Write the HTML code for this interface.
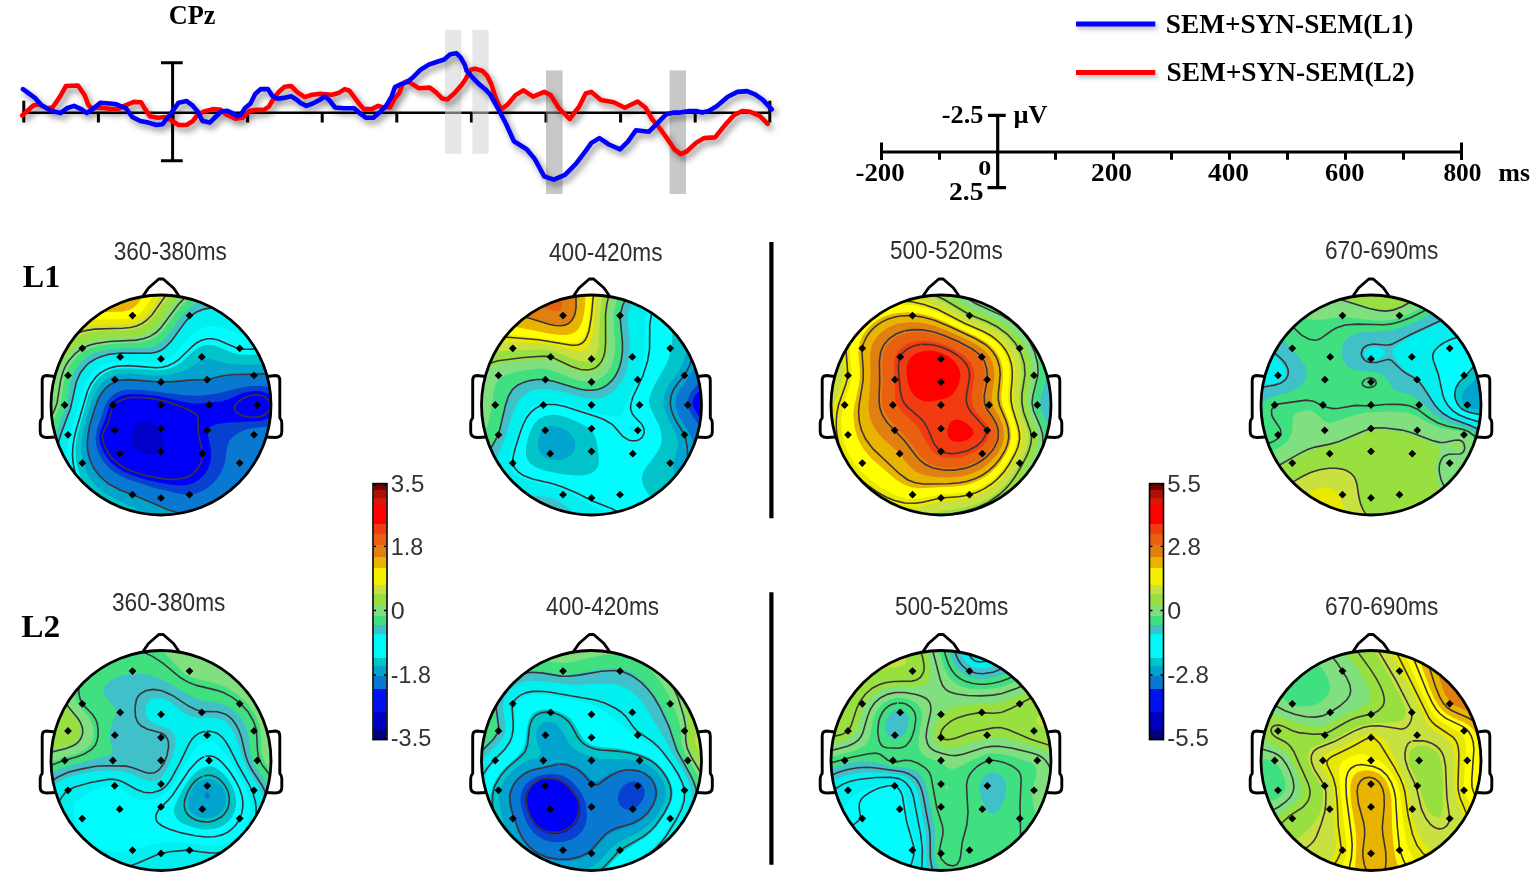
<!DOCTYPE html><html><head><meta charset="utf-8"><title>ERP topography</title><style>html,body{margin:0;padding:0;background:#fff;}svg{display:block;}</style></head><body>
<svg width="1535" height="878" viewBox="0 0 1535 878">
<defs><filter id="sh2" x="-10%" y="-100%" width="120%" height="300%"><feGaussianBlur in="SourceAlpha" stdDeviation="2"/><feOffset dx="1.5" dy="2.5" result="b"/><feFlood flood-color="#000" flood-opacity="0.25"/><feComposite in2="b" operator="in"/><feMerge><feMergeNode/><feMergeNode in="SourceGraphic"/></feMerge></filter></defs>
<rect width="1535" height="878" fill="#fff"/>
<filter id="sh" x="-5%" y="-20%" width="110%" height="140%"><feGaussianBlur in="SourceAlpha" stdDeviation="3"/><feOffset dx="2.5" dy="3.5" result="b"/><feFlood flood-color="#000" flood-opacity="0.45"/><feComposite in2="b" operator="in"/><feMerge><feMergeNode/><feMergeNode in="SourceGraphic"/></feMerge></filter>
<path d="M22 112.7H771" stroke="#000" stroke-width="2.6"/>
<path d="M23.8 100.8V122.6M98.4 112.7V122.6M173 112.7V122.6M247.6 112.7V122.6M322.2 112.7V122.6M396.8 112.7V122.6M471.4 112.7V122.6M546 112.7V122.6M620.6 112.7V122.6M695.2 112.7V122.6M769.8 100.8V122.6" stroke="#000" stroke-width="3"/>
<path d="M172.6 61.5V161M161 62.8H182.7M161 160.7H182.7" stroke="#000" stroke-width="3"/>
<rect x="445" y="29.7" width="16.4" height="124" fill="rgb(212,212,212)" fill-opacity="0.55"/>
<rect x="472.4" y="29.7" width="16.2" height="124" fill="rgb(212,212,212)" fill-opacity="0.55"/>
<rect x="546" y="70.4" width="16.6" height="123.6" fill="rgb(151,151,151)" fill-opacity="0.53"/>
<rect x="669.6" y="70.4" width="16.4" height="123.6" fill="rgb(151,151,151)" fill-opacity="0.53"/>
<g filter="url(#sh)" fill="none" stroke-width="4.6" stroke-linejoin="round" stroke-linecap="round">
<path stroke="#f00" d="M22.2 115.5L33.3 105.5L38.9 104.3L46.9 108.3L52.5 107.5L59.7 97.1L66 86L78 85.5L84.4 94.7L88.4 105L91.6 108.3L99.5 107.5L110 108.7L118 109L126 105.1L133.9 101.9L141.1 102.3L145.1 109.1L149.9 116.3L157.8 117.8L165.8 117L172.2 121L178.6 125L186.6 125L192.9 121L197.7 114.7L204.1 111.5L213 109.1L221 109.9L226.5 114.7L235.3 118.6L242.5 117.8L249.7 110.7L256.8 109.9L264 109.9L268.8 106.7L273.6 98.7L278.4 92.3L284.7 86.7L291.1 86L297.5 92.3L304.8 97.1L312 94.7L319.9 93.9L331.9 94.7L338.3 93.1L344.7 89.1L349.4 90.7L354.2 97.1L359 103.5L363.8 109.1L371.8 109.1L378.1 105.9L383.7 107.5L390.1 107.5L394.9 97.9L399.1 93.3L403.2 83L407.3 81L412.4 84.1L418.6 88.2L429.8 87.6L436 92.3L442.1 98.4L447.3 99.4L454.4 93.3L461.6 85.1L465.7 78.9L470.8 69.7L474.9 68.7L482.1 70.7L487.2 75.9L491.3 84.1L496.4 99.9L501.2 109.4L507.5 104.7L515.5 95.1L523.5 90.3L533.1 96.7L544.2 91.9L550.6 95.1L558.6 107.8L569.7 119L579.3 106.3L585.7 93.5L591.4 91.9L601 99.9L613.7 102.3L624.9 107.8L637.6 101.5L645.6 107.8L652 119L660 128.6L667.9 139.7L674.3 149.3L680.7 154.1L686.4 151.7L696 142.9L703.9 138.1L715.1 137.4L724.7 125.4L734.2 115L742.2 111L750.2 111.8L759.7 115.8L767.7 123.8"/>
<path stroke="#00f" d="M23 89.1L34.9 97.9L41.3 105.1L50.9 110.7L60.5 113.1L66.8 108.3L74 105.9L81.2 109.1L86.8 113.1L94.7 107.5L100.3 102.7L110 103.5L116.4 104.3L126 108.3L132.3 117L140.3 121L148.3 122.6L156.3 125L162.6 124.2L170.6 113.9L178.6 102.7L186.6 101.1L192.1 105.1L197.7 111.5L202.5 121L209.8 122.6L215.4 117L221 111.5L227.3 110.7L232.1 113.1L236.9 116.3L240.9 114.7L244.9 108.3L250.5 103.5L255.2 93.9L260.8 89.1L268 89.1L272 95.5L276.8 98.7L284 97.9L291.1 96.3L297.5 100.3L300 102.7L306.4 105.9L312.8 103.5L319.1 100.3L324.7 96.3L328.7 99.5L335.1 107.5L343.9 108.3L354.2 108.3L360.6 113.9L366.2 117.8L373.4 117.8L379.7 112.3L386.1 105.9L391.7 96.3L395 87.1L401.1 84.1L407.3 82L413.4 76.9L420.6 69.7L428.8 64.6L438 61.5L444.2 59.5L450.3 54.3L456.5 53.3L460.6 57.4L464.7 64.6L466.7 70.7L472.9 77.9L479 84.1L485.2 89.2L490.2 94.5L495 103L498 108.5L506 123.8L513.9 141.3L526.7 149.3L534.7 158.9L544.2 176.4L553.8 179.6L565 174.8L576.1 163.7L585.7 150.9L591.4 142.9L599.4 138.1L608.9 144.5L620.1 149.3L628.1 141.3L636 130.2L648.8 131.8L656.8 123.8L666.3 114.2L674.3 112.6L680 112.6L689.6 111L696 111L702.3 112.6L708.7 111L716.7 106.3L727.8 96.7L737.4 91.9L747 91.1L755 94.3L762.9 99.9L771.7 109.4"/>
</g>
<text x="168.7" y="23.5" font-family="Liberation Serif, serif" font-weight="bold" font-size="26.5" textLength="46.7" lengthAdjust="spacingAndGlyphs">CPz</text>
<g filter="url(#sh2)">
<path d="M1076 24H1155.3" stroke="#00f" stroke-width="5"/>
<path d="M1076 72.4H1155.3" stroke="#f00" stroke-width="5"/>
</g>
<text x="1165.8" y="32.5" font-family="Liberation Serif, serif" font-weight="bold" font-size="28" textLength="247.5" lengthAdjust="spacingAndGlyphs">SEM+SYN-SEM(L1)</text>
<text x="1166.5" y="81" font-family="Liberation Serif, serif" font-weight="bold" font-size="28" textLength="248" lengthAdjust="spacingAndGlyphs">SEM+SYN-SEM(L2)</text>
<path d="M881.5 152H1462" stroke="#000" stroke-width="3"/>
<path d="M881.5 142.4V160M939.5 152V159.8M997.5 152V159.8M1055.5 152V159.8M1113.5 152V159.8M1171.5 152V159.8M1229.5 152V159.8M1287.5 152V159.8M1345.5 152V159.8M1403.5 152V159.8M1461.5 142.4V160" stroke="#000" stroke-width="3"/>
<path d="M997.7 113.7V189.3M988 115.4H1005.7M987.5 187.6H1006" stroke="#000" stroke-width="3.2"/>
<text x="941.7" y="122.6" font-family="Liberation Serif, serif" font-weight="bold" font-size="25.5" textLength="41.7" lengthAdjust="spacingAndGlyphs">-2.5</text>
<text x="1013.5" y="122.6" font-family="Liberation Serif, serif" font-weight="bold" font-size="25.5" textLength="34" lengthAdjust="spacingAndGlyphs">µV</text>
<text x="949" y="199.5" font-family="Liberation Serif, serif" font-weight="bold" font-size="25.5" textLength="34.4" lengthAdjust="spacingAndGlyphs">2.5</text>
<text x="978.3" y="175.2" font-family="Liberation Serif, serif" font-weight="bold" font-size="22" textLength="13" lengthAdjust="spacingAndGlyphs">0</text>
<text x="855.5" y="180.5" font-family="Liberation Serif, serif" font-weight="bold" font-size="26" textLength="49.2" lengthAdjust="spacingAndGlyphs">-200</text>
<text x="1091" y="180.5" font-family="Liberation Serif, serif" font-weight="bold" font-size="26" textLength="41" lengthAdjust="spacingAndGlyphs">200</text>
<text x="1208" y="180.5" font-family="Liberation Serif, serif" font-weight="bold" font-size="26" textLength="41" lengthAdjust="spacingAndGlyphs">400</text>
<text x="1325" y="180.5" font-family="Liberation Serif, serif" font-weight="bold" font-size="26" textLength="39.5" lengthAdjust="spacingAndGlyphs">600</text>
<text x="1443.4" y="180.5" font-family="Liberation Serif, serif" font-weight="bold" font-size="26" textLength="38" lengthAdjust="spacingAndGlyphs">800</text>
<text x="1498.6" y="180.5" font-family="Liberation Serif, serif" font-weight="bold" font-size="26" textLength="31.4" lengthAdjust="spacingAndGlyphs">ms</text>
<text x="113.7" y="259.6" font-family="Liberation Sans, Arial, sans-serif" font-size="25" fill="#2e2e2e" textLength="113.1" lengthAdjust="spacingAndGlyphs">360-380ms</text>
<text x="549" y="261.4" font-family="Liberation Sans, Arial, sans-serif" font-size="25" fill="#2e2e2e" textLength="113.5" lengthAdjust="spacingAndGlyphs">400-420ms</text>
<text x="890" y="259.4" font-family="Liberation Sans, Arial, sans-serif" font-size="25" fill="#2e2e2e" textLength="112.9" lengthAdjust="spacingAndGlyphs">500-520ms</text>
<text x="1325" y="259.4" font-family="Liberation Sans, Arial, sans-serif" font-size="25" fill="#2e2e2e" textLength="113.3" lengthAdjust="spacingAndGlyphs">670-690ms</text>
<text x="112" y="611.4" font-family="Liberation Sans, Arial, sans-serif" font-size="25" fill="#2e2e2e" textLength="113.4" lengthAdjust="spacingAndGlyphs">360-380ms</text>
<text x="546.1" y="615.4" font-family="Liberation Sans, Arial, sans-serif" font-size="25" fill="#2e2e2e" textLength="112.9" lengthAdjust="spacingAndGlyphs">400-420ms</text>
<text x="894.9" y="615.4" font-family="Liberation Sans, Arial, sans-serif" font-size="25" fill="#2e2e2e" textLength="113.4" lengthAdjust="spacingAndGlyphs">500-520ms</text>
<text x="1324.9" y="615.4" font-family="Liberation Sans, Arial, sans-serif" font-size="25" fill="#2e2e2e" textLength="113.4" lengthAdjust="spacingAndGlyphs">670-690ms</text>
<text x="22.8" y="287" font-family="Liberation Serif, serif" font-weight="bold" font-size="30.5" textLength="37.4" lengthAdjust="spacingAndGlyphs">L1</text>
<text x="21.2" y="636.5" font-family="Liberation Serif, serif" font-weight="bold" font-size="30.5" textLength="39" lengthAdjust="spacingAndGlyphs">L2</text>
<path d="M771.4 242V518.2M771.4 592.2V864.8" stroke="#000" stroke-width="4.2"/>
<rect x="373.5" y="484" width="13" height="6.5" fill="#780000"/>
<rect x="373.5" y="490" width="13" height="8.5" fill="#a81008"/>
<rect x="373.5" y="498" width="13" height="7.5" fill="#d81808"/>
<rect x="373.5" y="505" width="13" height="19.5" fill="#ff0000"/>
<rect x="373.5" y="524" width="13" height="10.5" fill="#f03c10"/>
<rect x="373.5" y="534" width="13" height="11.5" fill="#e86010"/>
<rect x="373.5" y="545" width="13" height="12.5" fill="#e08010"/>
<rect x="373.5" y="557" width="13" height="11.5" fill="#e8b400"/>
<rect x="373.5" y="568" width="13" height="17.5" fill="#f4f000"/>
<rect x="373.5" y="585" width="13" height="9.5" fill="#c8e040"/>
<rect x="373.5" y="594" width="13" height="12.5" fill="#98e040"/>
<rect x="373.5" y="606" width="13" height="10.5" fill="#80e080"/>
<rect x="373.5" y="616" width="13" height="9.5" fill="#40e080"/>
<rect x="373.5" y="625" width="13" height="9.5" fill="#40c0c8"/>
<rect x="373.5" y="634" width="13" height="24.5" fill="#00f8f8"/>
<rect x="373.5" y="658" width="13" height="8.5" fill="#00c4c8"/>
<rect x="373.5" y="666" width="13" height="10.5" fill="#00a4cc"/>
<rect x="373.5" y="676" width="13" height="13.5" fill="#0878d0"/>
<rect x="373.5" y="689" width="13" height="23.5" fill="#0010f0"/>
<rect x="373.5" y="712" width="13" height="18.5" fill="#0000c0"/>
<rect x="373.5" y="730" width="13" height="9.5" fill="#000080"/>
<rect x="373" y="483.6" width="14" height="256" fill="none" stroke="#000" stroke-width="1.6"/>
<path d="M373.5 485h2.5M386.5 485h-2.5M373.5 546.4h2.5M386.5 546.4h-2.5M373.5 610.5h2.5M386.5 610.5h-2.5M373.5 675h2.5M386.5 675h-2.5M373.5 738.5h2.5M386.5 738.5h-2.5" stroke="#000" stroke-width="1.4"/>
<text x="390.8" y="492" font-family="Liberation Sans, Arial, sans-serif" font-size="24" fill="#333" textLength="33.5" lengthAdjust="spacingAndGlyphs">3.5</text>
<text x="390.8" y="554.6" font-family="Liberation Sans, Arial, sans-serif" font-size="24" fill="#333" textLength="32.5" lengthAdjust="spacingAndGlyphs">1.8</text>
<text x="390.8" y="618.7" font-family="Liberation Sans, Arial, sans-serif" font-size="24" fill="#333" textLength="14" lengthAdjust="spacingAndGlyphs">0</text>
<text x="390.8" y="682.5" font-family="Liberation Sans, Arial, sans-serif" font-size="24" fill="#333" textLength="40" lengthAdjust="spacingAndGlyphs">-1.8</text>
<text x="390.8" y="746.4" font-family="Liberation Sans, Arial, sans-serif" font-size="24" fill="#333" textLength="40.5" lengthAdjust="spacingAndGlyphs">-3.5</text>
<rect x="1150" y="484" width="13" height="6.5" fill="#780000"/>
<rect x="1150" y="490" width="13" height="8.5" fill="#a81008"/>
<rect x="1150" y="498" width="13" height="7.5" fill="#d81808"/>
<rect x="1150" y="505" width="13" height="19.5" fill="#ff0000"/>
<rect x="1150" y="524" width="13" height="10.5" fill="#f03c10"/>
<rect x="1150" y="534" width="13" height="11.5" fill="#e86010"/>
<rect x="1150" y="545" width="13" height="12.5" fill="#e08010"/>
<rect x="1150" y="557" width="13" height="11.5" fill="#e8b400"/>
<rect x="1150" y="568" width="13" height="17.5" fill="#f4f000"/>
<rect x="1150" y="585" width="13" height="9.5" fill="#c8e040"/>
<rect x="1150" y="594" width="13" height="12.5" fill="#98e040"/>
<rect x="1150" y="606" width="13" height="10.5" fill="#80e080"/>
<rect x="1150" y="616" width="13" height="9.5" fill="#40e080"/>
<rect x="1150" y="625" width="13" height="9.5" fill="#40c0c8"/>
<rect x="1150" y="634" width="13" height="24.5" fill="#00f8f8"/>
<rect x="1150" y="658" width="13" height="8.5" fill="#00c4c8"/>
<rect x="1150" y="666" width="13" height="10.5" fill="#00a4cc"/>
<rect x="1150" y="676" width="13" height="13.5" fill="#0878d0"/>
<rect x="1150" y="689" width="13" height="23.5" fill="#0010f0"/>
<rect x="1150" y="712" width="13" height="18.5" fill="#0000c0"/>
<rect x="1150" y="730" width="13" height="9.5" fill="#000080"/>
<rect x="1149.5" y="483.6" width="14" height="256" fill="none" stroke="#000" stroke-width="1.6"/>
<path d="M1150 485h2.5M1163 485h-2.5M1150 546.4h2.5M1163 546.4h-2.5M1150 610.5h2.5M1163 610.5h-2.5M1150 675h2.5M1163 675h-2.5M1150 738.5h2.5M1163 738.5h-2.5" stroke="#000" stroke-width="1.4"/>
<text x="1167.3" y="492" font-family="Liberation Sans, Arial, sans-serif" font-size="24" fill="#333" textLength="33.5" lengthAdjust="spacingAndGlyphs">5.5</text>
<text x="1167.3" y="554.6" font-family="Liberation Sans, Arial, sans-serif" font-size="24" fill="#333" textLength="33.5" lengthAdjust="spacingAndGlyphs">2.8</text>
<text x="1167.3" y="618.7" font-family="Liberation Sans, Arial, sans-serif" font-size="24" fill="#333" textLength="14" lengthAdjust="spacingAndGlyphs">0</text>
<text x="1167.3" y="682.5" font-family="Liberation Sans, Arial, sans-serif" font-size="24" fill="#333" textLength="41.5" lengthAdjust="spacingAndGlyphs">-2.8</text>
<text x="1167.3" y="746.4" font-family="Liberation Sans, Arial, sans-serif" font-size="24" fill="#333" textLength="41.5" lengthAdjust="spacingAndGlyphs">-5.5</text>
<path d="M143 296L148.5 288L158.8 279L163.2 279L173.5 288L179 296" fill="#fff" stroke="#000" stroke-width="2.9" stroke-linejoin="round"/>
<path d="M54.8 376.5L46.5 375.5Q42.2 375.5 42.2 380.5L42.2 418Q40.2 420 40.2 423L40.2 432Q40.2 437.5 47 437.5L55.8 437" fill="#fff" stroke="#000" stroke-width="2.9" stroke-linejoin="round"/>
<path d="M267.2 376.5L275.5 375.5Q279.8 375.5 279.8 380.5L279.8 418Q281.8 420 281.8 423L281.8 432Q281.8 437.5 275 437.5L266.2 437" fill="#fff" stroke="#000" stroke-width="2.9" stroke-linejoin="round"/>
<clipPath id="hc0"><circle cx="161" cy="405" r="110"/></clipPath>
<g clip-path="url(#hc0)">
<circle cx="161" cy="405" r="112" fill="#000080"/>
<path fill="#0000a8" d="M49.5 292.0L273.0 292.0L273.0 517.0L271.5 517.0L48.0 517.0L48.0 292.0Z"/>
<path fill="#0000c8" d="M49.5 292.0L273.0 292.0L273.0 517.0L271.5 517.0L48.0 517.0L48.0 292.0Z"/>
<path fill="#0000f8" d="M49.5 292.0L273.0 292.0L273.0 517.0L271.5 517.0L48.0 517.0L48.0 292.0ZM141.8 421.0L139.5 421.8L136.5 423.9L133.4 428.5L131.9 433.0L131.2 437.5L132.0 444.0L133.5 447.0L135.7 449.5L141.0 452.9L147.0 454.6L154.5 454.4L157.5 453.5L160.5 451.8L163.3 448.0L164.3 443.5L163.1 437.5L157.7 428.5L153.0 423.5L150.0 421.8L147.0 420.9Z"/>
<path fill="#0840d0" d="M49.5 292.0L273.0 292.0L273.0 397.2L270.0 394.6L265.5 392.4L259.5 391.0L253.5 391.0L243.0 393.1L228.0 399.4L222.0 401.3L196.5 403.7L187.5 402.7L157.5 396.1L141.0 394.2L130.5 394.0L123.0 395.2L117.0 397.8L112.5 401.5L109.5 406.0L104.5 421.0L100.1 431.5L99.2 437.5L100.5 444.8L102.9 451.0L106.5 457.1L111.0 462.5L116.9 467.5L123.0 471.2L131.5 475.0L142.5 478.7L156.0 482.1L169.5 484.5L180.0 485.5L187.5 484.9L193.5 483.0L199.4 479.5L204.1 475.0L208.0 469.0L210.6 461.5L211.2 454.0L210.6 448.0L207.2 431.5L208.3 428.5L209.8 427.0L216.0 424.3L226.5 422.8L260.4 421.0L267.0 419.1L270.0 417.5L273.0 415.1L273.0 517.0L48.0 517.0L48.0 292.0Z"/>
<path fill="#0878d0" d="M49.5 292.0L273.0 292.0L273.0 389.0L268.5 387.3L262.5 386.1L250.5 386.1L240.0 387.8L216.0 393.8L204.0 395.3L195.0 395.7L183.0 395.0L142.5 390.0L127.5 389.6L120.0 391.1L114.0 394.1L109.2 398.5L105.5 404.5L97.1 428.5L95.6 437.5L96.0 443.8L97.9 451.0L100.6 457.0L105.0 463.6L109.5 468.3L114.2 472.0L120.0 475.5L127.5 479.0L153.0 487.5L180.0 494.1L189.0 494.7L196.5 493.3L204.3 490.0L212.4 484.0L218.8 476.5L222.8 469.0L225.1 461.5L227.2 446.5L229.6 440.5L233.7 436.0L238.1 433.0L244.7 430.0L252.0 428.1L265.5 426.7L273.0 424.5L273.0 517.0L48.0 517.0L48.0 292.0Z"/>
<path fill="#00a4cc" d="M49.5 292.0L273.0 292.0L273.0 374.8L264.0 374.3L232.5 375.4L222.0 376.8L207.0 380.6L193.5 380.7L171.0 382.5L156.0 382.2L132.0 380.1L123.0 380.3L115.5 382.0L109.5 385.4L103.7 391.0L99.8 397.0L96.0 405.9L91.3 421.0L89.1 430.0L87.9 439.0L87.8 446.5L88.8 454.0L91.1 461.5L94.0 467.5L97.5 472.6L102.0 477.7L106.5 481.5L112.5 485.5L120.0 489.3L133.5 494.3L160.5 505.8L177.0 511.6L184.5 513.3L192.0 514.0L199.5 513.7L206.9 512.5L213.0 510.7L220.5 507.6L226.5 504.3L232.5 500.1L243.0 490.3L248.0 484.0L252.0 478.0L263.1 457.0L267.0 452.9L273.0 449.4L273.0 517.0L48.0 517.0L48.0 292.0Z"/>
<path fill="#00c4c8" d="M49.5 292.0L273.0 292.0L273.0 363.9L249.0 364.8L238.5 364.4L228.0 363.2L210.0 359.3L205.5 358.9L201.0 360.2L191.2 367.0L185.6 370.0L178.5 372.8L171.0 374.6L157.5 375.7L129.0 373.5L123.0 373.6L117.0 374.4L109.0 377.5L105.0 380.1L101.4 383.5L96.0 391.0L91.5 401.4L84.1 427.0L82.2 437.5L81.4 445.0L81.5 452.5L82.6 460.0L84.8 467.5L87.5 473.5L91.5 479.9L96.0 485.2L100.5 489.5L106.5 493.9L115.5 499.0L153.4 517.0L48.0 517.0L48.0 292.0ZM273.0 486.8L273.0 517.0L240.0 517.0L239.2 517.0L248.2 511.0L257.2 503.5L264.8 496.0Z"/>
<path fill="#00fcfc" d="M49.5 292.0L273.0 292.0L273.0 353.5L249.0 354.9L240.0 354.5L232.5 352.7L214.5 345.6L210.0 344.9L205.5 345.1L201.0 346.4L198.0 348.0L193.5 351.3L181.2 362.5L175.5 366.0L169.5 368.4L163.5 369.8L156.0 370.3L129.0 368.2L117.0 368.8L111.0 370.4L105.4 373.0L100.5 376.4L96.5 380.5L92.4 386.5L88.5 395.4L78.2 431.5L76.4 440.5L75.5 449.5L75.8 458.5L77.1 466.0L79.3 473.5L82.7 481.0L87.0 487.8L93.0 494.8L99.0 500.2L106.5 505.6L127.2 517.0L48.0 517.0L48.0 292.0ZM273.0 510.7L273.0 517.0L265.5 517.0Z"/>
<path fill="#00f0f0" d="M49.5 292.0L273.0 292.0L273.0 335.6L255.0 335.8L246.0 335.2L240.0 333.8L220.5 327.0L213.0 326.0L207.0 326.4L201.0 328.2L195.0 331.9L189.0 337.7L175.1 353.5L169.5 358.0L163.7 361.0L159.0 362.1L153.0 362.4L129.0 360.7L120.0 360.8L111.0 362.2L103.5 364.8L97.5 368.2L92.0 373.0L87.5 379.0L84.5 385.0L69.4 436.0L67.5 445.0L66.5 454.0L66.5 463.0L67.6 472.0L69.9 481.0L72.8 488.5L76.8 496.0L82.1 503.5L88.5 510.6L95.5 517.0L48.0 517.0L48.0 292.0Z"/>
<path fill="#40c0c8" d="M49.5 292.0L273.0 292.0L273.0 314.3L255.0 312.5L225.0 308.4L214.5 308.5L205.5 310.0L196.5 313.3L190.5 317.2L186.0 322.4L171.0 342.9L165.0 348.7L160.5 351.6L156.0 353.1L150.0 353.9L117.0 353.8L109.5 354.9L102.0 356.9L94.5 360.2L88.5 364.4L83.2 370.0L79.5 376.1L75.8 386.5L70.9 409.0L61.5 434.5L57.6 449.5L56.4 458.5L56.1 467.5L56.7 476.5L58.3 485.5L61.0 494.5L64.1 502.0L68.2 509.5L73.2 517.0L48.0 517.0L48.0 292.0Z"/>
<path fill="#40e080" d="M49.5 292.0L273.0 292.0L273.0 298.0L244.5 295.8L228.0 295.6L213.0 297.5L205.5 299.6L199.5 301.9L192.0 306.0L186.0 310.9L181.5 316.0L171.2 331.0L166.5 336.9L161.8 341.5L156.0 345.2L151.5 346.8L145.5 347.9L117.0 348.7L103.5 350.6L96.0 352.7L90.8 355.0L85.5 358.3L80.8 362.5L75.3 370.0L71.9 377.5L69.9 385.0L66.5 406.0L53.2 439.0L49.9 451.0L48.0 463.7L48.0 292.0ZM48.1 482.5L49.5 491.2L51.5 499.0L54.7 508.0L58.9 517.0L58.5 517.0L48.0 517.0Z"/>
<path fill="#80e080" d="M49.5 292.0L200.2 292.0L190.5 297.9L183.0 304.2L177.0 311.2L163.5 329.8L159.0 334.4L154.5 337.8L148.5 340.6L141.0 342.3L111.0 344.0L97.5 346.1L87.0 349.6L82.7 352.0L78.7 355.0L71.9 362.5L67.5 370.0L64.8 377.5L63.3 385.0L61.5 400.0L60.0 406.0L48.0 432.8L48.0 292.0Z"/>
<path fill="#98e040" d="M49.5 292.0L184.4 292.0L174.6 302.5L159.0 323.7L154.5 328.2L150.0 331.5L142.5 335.0L135.0 336.7L108.0 338.2L93.9 340.0L82.5 343.5L73.5 349.0L66.2 356.5L61.3 364.0L57.6 373.0L55.7 380.5L52.5 400.0L48.0 412.3L48.0 292.0Z"/>
<path fill="#c8e040" d="M49.5 292.0L171.5 292.0L156.6 313.0L150.1 320.5L145.5 324.2L141.5 326.5L132.0 329.5L124.5 330.3L105.0 330.7L94.5 331.6L85.5 333.2L76.5 336.3L67.4 341.5L59.1 349.0L52.5 358.0L48.0 367.5L48.0 292.0Z"/>
<path fill="#e8e800" d="M49.5 292.0L162.9 292.0L153.0 307.0L147.0 314.5L141.0 319.7L135.0 322.7L130.5 323.9L124.5 324.6L93.0 325.3L85.5 326.4L78.0 328.3L69.0 331.8L61.5 336.3L54.0 342.6L48.0 349.5L48.0 292.0Z"/>
<path fill="#ffff00" d="M49.5 292.0L155.5 292.0L144.0 308.9L138.3 314.5L133.5 317.4L129.0 318.6L123.0 319.3L91.5 319.6L78.0 321.7L69.0 324.6L61.7 328.0L54.6 332.5L48.0 338.0L48.0 292.0Z"/>
<path fill="#e8b400" d="M49.5 292.0L146.2 292.0L137.5 304.0L133.5 307.7L129.5 310.0L121.5 311.7L93.0 311.9L78.0 313.6L69.0 315.8L61.5 318.5L54.3 322.0L48.0 325.9L48.0 292.0Z"/>
<path fill="#e08010" d="M49.5 292.0L129.5 292.0L123.2 296.5L117.0 298.6L109.5 299.7L85.5 301.0L75.0 302.3L61.5 305.5L48.0 310.7L48.0 292.0Z"/>
<path fill="#e86010" d="M49.5 292.0L55.3 292.0L52.5 292.8L48.0 294.3L48.0 292.0Z"/>
<path fill="none" stroke="#3a343a" stroke-width="1.6" d="M250.5 395.4L242.8 398.5L238.7 401.5L235.9 404.5L234.4 407.5L234.3 409.0L235.8 412.0L238.5 413.9L243.0 415.8L249.0 417.0L255.0 417.2L260.3 416.5L264.3 415.0L268.2 412.0L270.0 409.0L270.5 406.0L270.1 403.0L268.5 400.0L264.0 396.4L258.0 394.8L250.5 395.4M126.0 398.3L118.5 401.2L115.5 403.6L113.5 406.0L111.0 411.9L107.8 424.0L103.5 432.0L102.2 436.0L103.7 443.5L107.9 452.5L112.5 458.6L119.2 464.5L124.5 467.8L130.5 470.7L147.0 476.0L163.5 478.9L171.0 479.4L178.5 479.2L187.5 476.9L191.1 475.0L195.0 471.8L198.5 467.5L200.7 463.0L201.9 458.5L202.3 454.0L201.6 448.0L198.3 433.0L198.1 418.0L196.8 415.0L195.3 413.5L190.0 410.5L179.3 406.0L168.0 402.0L160.5 400.0L150.0 398.3L139.5 397.4L132.0 397.4L126.0 398.3M273.0 374.1L264.0 373.7L231.0 374.8L220.5 376.2L207.0 379.7L193.5 379.9L171.0 381.9L156.0 381.8L129.0 379.6L121.5 380.0L115.5 381.5L109.5 384.8L105.0 388.8L101.0 394.0L97.9 400.0L94.5 409.1L89.7 425.5L88.1 434.5L87.3 443.5L87.6 449.5L88.7 455.5L90.6 461.5L93.0 466.8L96.0 471.6L100.0 476.5L108.8 484.0L120.0 490.0L133.5 495.1L168.0 509.7L180.0 513.3L192.0 514.9L204.0 514.1L214.5 511.4L225.0 506.6L234.0 500.5L242.3 493.0L249.8 484.0L254.6 476.5L264.7 458.5L268.5 454.5L273.0 451.5M273.0 347.9L249.0 349.3L241.5 349.2L235.5 347.6L217.5 339.8L211.5 338.7L207.0 338.8L201.0 340.5L196.5 343.0L192.0 346.7L178.9 359.5L174.0 362.9L168.0 365.7L162.0 367.2L156.0 367.7L129.0 365.6L117.0 366.2L111.0 367.6L105.0 370.1L100.3 373.0L96.0 376.9L91.1 383.5L87.5 391.0L76.1 430.0L74.0 439.0L72.8 448.0L72.5 455.5L73.1 463.0L75.0 472.0L77.6 479.5L81.0 486.3L85.5 493.0L91.5 499.9L97.5 505.3L105.0 510.8L115.1 517.0M273.0 312.4L225.0 306.9L214.5 307.1L204.0 309.1L196.5 312.0L190.3 316.0L186.0 320.9L171.0 341.6L165.1 347.5L160.5 350.6L156.0 352.2L150.0 353.2L121.5 353.0L109.5 354.3L102.0 356.2L96.0 358.6L90.0 362.2L86.2 365.5L80.3 373.0L76.3 382.0L70.5 408.5L61.8 431.5L58.9 440.5L56.8 449.5L55.6 458.5L55.4 473.5L58.0 488.5L60.3 496.0L63.5 503.5L71.5 517.0M192.2 292.0L184.5 298.1L178.5 304.3L160.5 328.2L156.0 332.5L150.0 336.4L144.0 338.6L136.5 340.1L109.5 341.5L96.0 343.5L90.0 345.1L84.0 347.4L79.5 350.1L75.2 353.5L68.6 361.0L65.8 365.5L63.1 371.5L60.6 380.5L57.0 403.4L54.3 410.5L48.0 423.8M168.2 292.0L152.3 314.5L147.0 320.0L142.2 323.5L136.5 326.1L130.5 327.5L123.0 328.2L94.5 329.1L85.5 330.6L76.5 333.4L67.5 338.0L60.0 343.8L53.8 350.5L48.0 359.5"/>
</g>
<circle cx="161" cy="405" r="110" fill="none" stroke="#000" stroke-width="2.8"/>
<path fill="#000" d="M132.5 311.7l3.9 3.9l-3.9 3.9l-3.9-3.9zM189.5 311.7l3.9 3.9l-3.9 3.9l-3.9-3.9zM82.3 344.4l3.9 3.9l-3.9 3.9l-3.9-3.9zM120.2 353l3.9 3.9l-3.9 3.9l-3.9-3.9zM161 355l3.9 3.9l-3.9 3.9l-3.9-3.9zM201.8 353l3.9 3.9l-3.9 3.9l-3.9-3.9zM239.7 344.4l3.9 3.9l-3.9 3.9l-3.9-3.9zM68 371.5l3.9 3.9l-3.9 3.9l-3.9-3.9zM114.9 375.8l3.9 3.9l-3.9 3.9l-3.9-3.9zM161 378.1l3.9 3.9l-3.9 3.9l-3.9-3.9zM207.1 375.8l3.9 3.9l-3.9 3.9l-3.9-3.9zM254 371.5l3.9 3.9l-3.9 3.9l-3.9-3.9zM64.7 401.1l3.9 3.9l-3.9 3.9l-3.9-3.9zM112.9 401.1l3.9 3.9l-3.9 3.9l-3.9-3.9zM161 401.1l3.9 3.9l-3.9 3.9l-3.9-3.9zM209.1 401.1l3.9 3.9l-3.9 3.9l-3.9-3.9zM257.3 401.1l3.9 3.9l-3.9 3.9l-3.9-3.9zM68 430.9l3.9 3.9l-3.9 3.9l-3.9-3.9zM114.7 426.4l3.9 3.9l-3.9 3.9l-3.9-3.9zM161 424.7l3.9 3.9l-3.9 3.9l-3.9-3.9zM207.3 426.4l3.9 3.9l-3.9 3.9l-3.9-3.9zM254 430.9l3.9 3.9l-3.9 3.9l-3.9-3.9zM82.3 459.2l3.9 3.9l-3.9 3.9l-3.9-3.9zM119.7 449.8l3.9 3.9l-3.9 3.9l-3.9-3.9zM161 447.5l3.9 3.9l-3.9 3.9l-3.9-3.9zM202.3 449.8l3.9 3.9l-3.9 3.9l-3.9-3.9zM239.7 459.2l3.9 3.9l-3.9 3.9l-3.9-3.9zM132.5 490.8l3.9 3.9l-3.9 3.9l-3.9-3.9zM161 494l3.9 3.9l-3.9 3.9l-3.9-3.9zM189.5 490.8l3.9 3.9l-3.9 3.9l-3.9-3.9z"/>
<path d="M573.5 296L579 288L589.3 279L593.7 279L604 288L609.5 296" fill="#fff" stroke="#000" stroke-width="2.9" stroke-linejoin="round"/>
<path d="M485.3 376.5L477 375.5Q472.7 375.5 472.7 380.5L472.7 418Q470.7 420 470.7 423L470.7 432Q470.7 437.5 477.5 437.5L486.3 437" fill="#fff" stroke="#000" stroke-width="2.9" stroke-linejoin="round"/>
<path d="M697.7 376.5L706 375.5Q710.3 375.5 710.3 380.5L710.3 418Q712.3 420 712.3 423L712.3 432Q712.3 437.5 705.5 437.5L696.7 437" fill="#fff" stroke="#000" stroke-width="2.9" stroke-linejoin="round"/>
<clipPath id="hc1"><circle cx="591.5" cy="405" r="110"/></clipPath>
<g clip-path="url(#hc1)">
<circle cx="591.5" cy="405" r="112" fill="#000080"/>
<path fill="#0000a8" d="M480.0 292.0L703.5 292.0L703.5 517.0L702.0 517.0L478.5 517.0L478.5 292.0Z"/>
<path fill="#0000c8" d="M480.0 292.0L703.5 292.0L703.5 517.0L702.0 517.0L478.5 517.0L478.5 292.0Z"/>
<path fill="#0000f8" d="M480.0 292.0L703.5 292.0L703.5 517.0L702.0 517.0L478.5 517.0L478.5 292.0Z"/>
<path fill="#0840d0" d="M480.0 292.0L703.5 292.0L703.5 386.0L695.0 395.5L693.0 399.8L692.6 403.0L693.1 406.0L695.1 410.5L698.3 415.0L703.5 420.9L703.5 506.5L703.5 517.0L478.5 517.0L478.5 292.0Z"/>
<path fill="#0878d0" d="M480.0 292.0L703.5 292.0L703.5 377.7L690.9 392.5L688.5 397.5L687.6 403.0L688.5 408.2L690.8 413.5L694.5 419.0L703.5 430.3L703.5 502.0L703.5 517.0L478.5 517.0L478.5 292.0Z"/>
<path fill="#00a4cc" d="M480.0 292.0L703.5 292.0L703.5 348.3L697.0 362.5L691.5 373.0L678.5 391.0L676.2 397.0L675.5 403.0L676.2 409.0L678.3 415.0L681.5 421.0L688.5 431.5L691.4 437.5L693.9 445.0L698.5 463.0L703.5 474.5L703.5 490.0L703.5 517.0L478.5 517.0L478.5 292.0Z"/>
<path fill="#00c4c8" d="M480.0 292.0L703.5 292.0L703.5 302.2L697.9 311.5L693.5 322.0L691.0 331.0L686.4 352.0L683.2 362.5L678.9 371.5L670.9 382.0L667.1 388.0L665.1 392.5L663.6 398.5L663.6 404.5L665.4 412.0L668.6 419.5L675.4 433.0L677.4 439.0L677.9 443.5L677.6 448.0L673.6 464.5L673.4 472.0L674.5 478.0L676.5 483.8L678.9 488.5L683.0 494.5L692.8 505.0L703.5 513.3L703.5 517.0L478.5 517.0L478.5 292.0ZM546.7 427.0L544.1 428.5L541.5 431.3L538.8 437.5L538.1 442.0L538.1 446.5L540.2 452.5L544.5 457.0L550.5 459.6L558.0 460.3L565.5 458.7L570.5 455.5L572.9 452.5L574.3 449.5L575.1 443.5L574.6 440.5L573.3 437.5L571.1 434.5L567.8 431.5L561.0 427.7L553.5 425.9L550.5 426.0Z"/>
<path fill="#00fcfc" d="M480.0 292.0L687.1 292.0L679.4 304.0L676.6 310.0L674.5 316.0L672.6 326.5L671.7 347.5L669.0 358.0L665.6 365.5L653.7 386.5L649.6 397.0L649.0 401.5L649.6 406.0L659.7 427.0L661.3 433.0L661.8 439.0L660.7 445.0L658.0 451.0L654.0 457.0L645.8 467.5L643.2 472.0L641.9 478.0L642.1 481.0L643.4 485.5L647.5 493.0L653.2 500.5L661.8 509.5L670.2 517.0L478.5 517.0L478.5 292.0ZM548.9 415.0L543.0 416.7L538.5 419.5L534.3 424.0L531.0 429.6L528.0 437.9L526.0 448.0L526.1 455.5L527.7 460.0L529.9 463.0L533.5 466.0L543.0 470.2L561.0 474.1L577.5 475.6L585.0 475.0L591.0 473.2L595.2 470.5L598.2 466.0L599.0 460.0L597.5 446.5L596.4 440.5L594.3 434.5L592.5 431.5L589.5 428.5L584.8 425.5L574.5 420.5L567.0 417.5L559.5 415.5L553.5 414.8Z"/>
<path fill="#00f0f0" d="M480.0 292.0L658.0 292.0L649.8 305.5L645.9 316.0L644.8 325.0L645.3 341.5L644.9 350.5L643.4 361.0L641.1 370.0L637.9 379.0L628.3 398.5L622.9 413.5L621.0 416.3L619.5 416.9L616.5 417.1L603.0 414.7L588.0 411.1L565.5 404.1L556.5 402.1L546.0 401.7L538.5 403.5L534.0 405.9L530.2 409.0L526.5 413.3L523.5 418.3L518.7 430.0L511.8 451.0L509.9 458.5L509.8 464.5L511.5 469.3L514.7 473.5L520.5 477.7L529.5 481.2L550.5 485.7L559.5 488.7L575.2 496.0L591.0 504.9L614.8 517.0L478.5 517.0L478.5 292.0ZM630.0 426.2L633.0 426.0L636.0 427.5L637.7 430.0L637.3 431.5L634.5 432.7L631.5 431.6L629.4 428.5L629.4 427.0Z"/>
<path fill="#40c0c8" d="M480.0 292.0L638.2 292.0L631.2 305.5L628.9 311.5L627.9 316.0L627.8 322.0L629.6 337.0L629.9 346.0L629.3 355.0L627.8 365.5L626.1 371.5L623.6 377.5L620.1 383.5L616.5 388.3L612.0 392.7L607.5 395.7L601.5 398.0L595.5 398.8L589.5 398.6L583.5 397.6L559.5 390.9L549.0 389.0L543.0 388.7L537.0 389.3L532.5 390.5L528.0 392.4L523.5 395.4L520.5 398.4L515.6 406.0L512.1 415.0L506.0 436.0L499.5 450.6L495.8 461.5L495.4 470.5L496.4 475.0L498.3 479.5L501.0 483.5L504.0 486.6L510.0 490.6L519.0 493.8L528.0 495.3L547.5 496.9L555.0 498.9L564.4 505.0L578.3 517.0L478.5 517.0L478.5 292.0Z"/>
<path fill="#40e080" d="M480.0 292.0L628.0 292.0L622.1 305.5L619.5 315.8L619.7 322.0L622.0 343.0L621.8 352.0L620.9 359.5L619.4 365.5L617.1 371.5L614.6 376.0L611.1 380.5L606.0 385.0L601.5 387.5L597.0 389.0L591.0 389.8L585.0 389.5L579.0 388.5L555.0 380.9L544.5 378.9L538.5 378.7L531.0 379.5L525.0 381.0L518.8 383.5L512.5 388.0L510.0 391.1L507.7 395.5L504.9 404.5L498.4 433.0L496.5 437.3L491.8 445.0L487.5 452.5L484.8 458.5L482.6 466.0L481.8 472.0L482.1 478.0L483.5 484.0L486.4 490.0L489.9 494.5L497.3 500.5L507.0 504.7L513.0 506.2L520.5 507.2L541.5 507.6L547.5 508.3L553.5 510.8L560.6 517.0L478.5 517.0L478.5 292.0Z"/>
<path fill="#80e080" d="M480.0 292.0L619.8 292.0L615.3 305.5L613.6 314.5L613.5 322.0L615.2 343.0L614.5 355.0L612.2 364.0L608.1 371.5L603.8 376.0L599.2 379.0L594.0 380.9L588.0 381.7L582.0 381.3L576.0 379.9L558.3 373.0L552.0 370.5L546.0 369.1L540.0 368.6L534.0 368.9L523.5 370.4L512.0 373.0L504.0 375.8L499.5 378.7L496.0 383.5L493.9 389.5L491.4 409.0L487.6 425.5L484.2 433.0L478.5 441.6L478.5 292.0ZM479.3 515.5L481.5 517.0L478.5 517.0L478.5 515.0Z"/>
<path fill="#98e040" d="M480.0 292.0L611.8 292.0L608.9 304.0L607.4 314.5L607.2 323.5L607.8 344.5L606.7 355.0L604.6 361.0L601.5 366.0L597.0 369.9L592.5 372.0L586.5 372.9L579.0 371.9L570.0 368.7L552.0 360.1L546.0 358.9L538.5 358.9L510.0 362.0L496.5 364.7L491.0 367.0L486.1 370.0L482.5 373.0L478.5 377.5L478.5 292.0Z"/>
<path fill="#c8e040" d="M480.0 292.0L603.3 292.0L600.5 311.5L598.4 346.0L596.6 353.5L594.3 358.0L592.5 359.8L589.5 361.3L586.5 361.8L582.0 361.6L574.5 359.5L555.0 351.7L549.0 350.3L540.0 349.6L498.0 351.2L487.5 352.6L478.5 354.7L478.5 292.0Z"/>
<path fill="#e8e800" d="M480.0 292.0L597.2 292.0L593.0 331.0L591.5 338.5L589.5 344.5L587.8 347.5L585.0 349.9L582.0 350.9L579.0 351.1L571.5 350.0L553.5 345.3L541.5 343.6L496.5 341.9L478.5 342.3L478.5 292.0Z"/>
<path fill="#ffff00" d="M480.0 292.0L591.9 292.0L589.2 320.5L587.1 329.5L584.6 335.5L582.0 339.0L579.0 341.2L574.5 342.5L570.0 342.7L537.0 337.8L478.5 331.8L478.5 292.0Z"/>
<path fill="#e8b400" d="M480.0 292.0L585.4 292.0L585.0 305.5L583.9 314.5L582.0 322.2L579.0 328.2L576.0 331.5L571.5 334.0L565.5 335.1L559.5 334.9L549.0 333.4L516.0 327.0L478.5 318.6L478.5 292.0Z"/>
<path fill="#e08010" d="M480.0 292.0L575.9 292.0L576.3 302.5L575.8 310.0L574.2 316.0L571.5 320.8L567.0 324.3L564.0 325.4L559.5 325.9L550.5 324.7L535.8 320.5L505.7 310.0L481.6 299.5L478.5 297.9L478.5 292.0Z"/>
<path fill="#e86010" d="M514.5 292.0L561.4 292.0L562.4 304.0L561.9 307.0L560.5 310.0L559.5 310.8L556.5 311.4L546.0 308.5L526.5 299.5L516.1 293.5L513.7 292.0Z"/>
<path fill="none" stroke="#3a343a" stroke-width="1.6" d="M703.5 326.9L689.6 365.5L685.1 374.5L677.7 383.5L673.7 389.5L671.2 395.5L670.3 403.0L671.1 409.0L673.7 416.5L676.9 422.5L683.5 433.0L685.5 437.5L687.1 446.5L688.2 466.0L690.3 475.0L693.0 481.0L695.7 485.5L703.5 494.9M663.4 292.0L655.9 304.0L651.4 314.5L649.7 325.0L649.6 349.0L647.6 361.0L642.8 376.0L632.9 397.0L630.7 404.5L630.6 409.0L632.1 413.5L634.3 416.5L641.6 424.0L643.9 428.5L644.2 433.0L642.0 437.5L639.0 439.8L636.0 440.7L631.5 440.7L628.5 439.9L622.5 436.1L614.7 427.0L611.5 424.0L603.8 419.5L596.0 416.5L564.0 406.2L555.0 404.5L546.0 404.5L540.0 406.1L535.5 408.4L531.0 412.1L526.5 418.0L523.4 424.0L520.5 431.5L514.9 449.5L513.1 457.0L512.8 463.0L514.5 467.5L518.2 472.0L523.5 475.6L532.5 479.0L552.0 483.5L562.5 487.0L576.8 493.0L592.5 500.9L612.0 508.7L626.8 517.0M628.6 292.0L622.5 306.0L620.0 316.0L622.5 343.0L622.4 352.0L621.4 359.5L620.0 365.5L617.7 371.5L615.3 376.0L612.0 380.4L607.5 384.7L603.0 387.5L598.5 389.3L592.5 390.3L586.5 390.3L579.0 389.0L553.5 381.2L543.0 379.5L537.0 379.5L529.5 380.6L523.5 382.4L517.5 385.3L512.5 389.5L508.5 396.0L505.5 405.3L498.6 434.5L488.4 452.5L484.7 461.5L483.3 467.5L482.9 472.0L483.3 478.0L484.3 482.5L486.2 487.0L489.0 491.5L492.0 494.8L496.5 498.5L504.0 502.5L514.5 505.4L525.0 506.4L543.0 506.7L549.0 507.6L555.0 510.5L561.9 517.0M609.5 292.0L606.9 304.0L605.5 314.5L605.6 343.0L604.8 352.0L603.7 356.5L601.5 361.4L598.5 365.2L595.5 367.6L592.5 369.0L588.0 370.0L580.5 369.5L571.5 366.5L552.0 357.3L547.5 356.4L541.5 356.2L523.5 357.5L498.0 360.7L487.8 364.0L478.5 369.7M593.7 292.0L591.3 317.5L588.9 331.0L586.8 337.0L585.0 340.2L582.2 343.0L579.3 344.5L576.0 345.2L571.5 345.2L538.5 339.8L493.5 336.1L478.5 335.3M575.9 292.0L576.1 307.0L575.2 313.0L573.6 317.5L571.5 320.8L568.5 323.5L565.5 324.9L561.0 325.8L555.0 325.5L549.0 324.3L522.2 316.0L498.2 307.0L478.5 297.9"/>
</g>
<circle cx="591.5" cy="405" r="110" fill="none" stroke="#000" stroke-width="2.8"/>
<path fill="#000" d="M563 311.7l3.9 3.9l-3.9 3.9l-3.9-3.9zM620 311.7l3.9 3.9l-3.9 3.9l-3.9-3.9zM512.8 344.4l3.9 3.9l-3.9 3.9l-3.9-3.9zM550.7 353l3.9 3.9l-3.9 3.9l-3.9-3.9zM591.5 355l3.9 3.9l-3.9 3.9l-3.9-3.9zM632.3 353l3.9 3.9l-3.9 3.9l-3.9-3.9zM670.2 344.4l3.9 3.9l-3.9 3.9l-3.9-3.9zM498.5 371.5l3.9 3.9l-3.9 3.9l-3.9-3.9zM545.4 375.8l3.9 3.9l-3.9 3.9l-3.9-3.9zM591.5 378.1l3.9 3.9l-3.9 3.9l-3.9-3.9zM637.6 375.8l3.9 3.9l-3.9 3.9l-3.9-3.9zM684.5 371.5l3.9 3.9l-3.9 3.9l-3.9-3.9zM495.2 401.1l3.9 3.9l-3.9 3.9l-3.9-3.9zM543.4 401.1l3.9 3.9l-3.9 3.9l-3.9-3.9zM591.5 401.1l3.9 3.9l-3.9 3.9l-3.9-3.9zM639.6 401.1l3.9 3.9l-3.9 3.9l-3.9-3.9zM687.8 401.1l3.9 3.9l-3.9 3.9l-3.9-3.9zM498.5 430.9l3.9 3.9l-3.9 3.9l-3.9-3.9zM545.2 426.4l3.9 3.9l-3.9 3.9l-3.9-3.9zM591.5 424.7l3.9 3.9l-3.9 3.9l-3.9-3.9zM637.8 426.4l3.9 3.9l-3.9 3.9l-3.9-3.9zM684.5 430.9l3.9 3.9l-3.9 3.9l-3.9-3.9zM512.8 459.2l3.9 3.9l-3.9 3.9l-3.9-3.9zM550.2 449.8l3.9 3.9l-3.9 3.9l-3.9-3.9zM591.5 447.5l3.9 3.9l-3.9 3.9l-3.9-3.9zM632.8 449.8l3.9 3.9l-3.9 3.9l-3.9-3.9zM670.2 459.2l3.9 3.9l-3.9 3.9l-3.9-3.9zM563 490.8l3.9 3.9l-3.9 3.9l-3.9-3.9zM591.5 494l3.9 3.9l-3.9 3.9l-3.9-3.9zM620 490.8l3.9 3.9l-3.9 3.9l-3.9-3.9z"/>
<path d="M923 296L928.5 288L938.8 279L943.2 279L953.5 288L959 296" fill="#fff" stroke="#000" stroke-width="2.9" stroke-linejoin="round"/>
<path d="M834.8 376.5L826.5 375.5Q822.2 375.5 822.2 380.5L822.2 418Q820.2 420 820.2 423L820.2 432Q820.2 437.5 827 437.5L835.8 437" fill="#fff" stroke="#000" stroke-width="2.9" stroke-linejoin="round"/>
<path d="M1047.2 376.5L1055.5 375.5Q1059.8 375.5 1059.8 380.5L1059.8 418Q1061.8 420 1061.8 423L1061.8 432Q1061.8 437.5 1055 437.5L1046.2 437" fill="#fff" stroke="#000" stroke-width="2.9" stroke-linejoin="round"/>
<clipPath id="hc2"><circle cx="941" cy="405" r="110"/></clipPath>
<g clip-path="url(#hc2)">
<circle cx="941" cy="405" r="112" fill="#000080"/>
<path fill="#0000a8" d="M829.5 292.0L1053.0 292.0L1053.0 517.0L1051.5 517.0L828.0 517.0L828.0 292.0Z"/>
<path fill="#0000c8" d="M829.5 292.0L1053.0 292.0L1053.0 517.0L1051.5 517.0L828.0 517.0L828.0 292.0Z"/>
<path fill="#0000f8" d="M829.5 292.0L1053.0 292.0L1053.0 517.0L1051.5 517.0L828.0 517.0L828.0 292.0Z"/>
<path fill="#0840d0" d="M829.5 292.0L1053.0 292.0L1053.0 517.0L1051.5 517.0L828.0 517.0L828.0 292.0Z"/>
<path fill="#0878d0" d="M829.5 292.0L1053.0 292.0L1053.0 517.0L1051.5 517.0L828.0 517.0L828.0 292.0Z"/>
<path fill="#00a4cc" d="M829.5 292.0L1053.0 292.0L1053.0 517.0L1051.5 517.0L828.0 517.0L828.0 292.0Z"/>
<path fill="#00c4c8" d="M829.5 292.0L1052.5 292.0L1053.0 292.5L1053.0 517.0L828.0 517.0L828.0 292.0Z"/>
<path fill="#00fcfc" d="M829.5 292.0L1039.0 292.0L1047.0 299.4L1053.0 305.9L1053.0 517.0L828.0 517.0L828.0 292.0Z"/>
<path fill="#00f0f0" d="M829.5 292.0L1017.7 292.0L1029.0 299.9L1039.5 309.3L1046.8 317.5L1053.0 326.5L1053.0 499.3L1045.6 511.0L1041.2 517.0L828.0 517.0L828.0 292.0Z"/>
<path fill="#40c0c8" d="M829.5 292.0L993.1 292.0L1006.5 299.0L1015.5 304.3L1024.5 310.9L1031.8 317.5L1039.6 326.5L1045.5 335.9L1050.0 346.0L1053.0 357.1L1053.0 381.4L1049.8 397.0L1049.1 403.0L1049.9 409.0L1053.0 418.2L1053.0 471.0L1046.6 485.5L1038.7 499.0L1032.0 508.2L1024.3 517.0L828.0 517.0L828.0 292.0Z"/>
<path fill="#40e080" d="M829.5 292.0L974.8 292.0L1008.0 308.9L1017.0 314.8L1026.0 322.6L1032.1 329.5L1038.2 338.5L1042.4 347.5L1045.5 358.0L1046.6 367.0L1046.3 376.0L1044.9 383.5L1040.6 398.5L1040.0 404.5L1041.0 409.0L1049.0 428.5L1050.4 434.5L1051.0 440.5L1050.2 452.5L1046.9 464.5L1040.2 479.5L1032.0 493.5L1022.0 506.5L1011.2 517.0L828.0 517.0L828.0 292.0Z"/>
<path fill="#80e080" d="M831.0 293.0L832.0 292.0L959.7 292.0L975.0 301.3L996.0 310.8L1005.0 315.6L1014.0 321.7L1021.5 328.4L1027.5 335.5L1032.2 343.0L1035.7 350.5L1038.4 359.5L1039.6 368.5L1039.3 376.0L1033.9 397.0L1033.3 404.5L1035.0 411.3L1042.9 430.0L1043.9 434.5L1044.5 440.5L1043.3 451.0L1039.5 462.7L1032.0 478.0L1023.5 491.5L1017.5 499.0L1011.0 505.8L1003.5 512.2L996.6 517.0L830.3 517.0L828.0 514.9L828.0 296.3Z"/>
<path fill="#98e040" d="M847.5 293.3L849.3 292.0L943.7 292.0L970.7 308.5L993.0 318.0L1002.0 322.8L1011.2 329.5L1019.7 338.5L1023.7 344.5L1026.9 350.5L1029.2 356.5L1031.0 364.0L1031.6 374.5L1027.5 394.0L1026.9 403.0L1028.7 412.0L1036.3 431.5L1037.2 436.0L1037.2 442.0L1036.1 448.0L1033.7 455.5L1024.6 473.5L1015.5 487.5L1010.9 493.0L1004.9 499.0L997.5 505.0L990.0 509.8L982.5 513.6L973.8 517.0L852.5 517.0L840.0 507.7L833.9 502.0L828.0 495.5L828.0 316.5L831.9 310.0L836.4 304.0L841.5 298.5Z"/>
<path fill="#c8e040" d="M874.5 293.1L878.2 292.0L917.4 292.0L931.5 296.6L945.0 303.1L967.5 316.4L987.0 324.4L997.5 330.0L1003.5 334.4L1009.3 340.0L1013.9 346.0L1017.3 352.0L1020.6 361.0L1022.0 370.0L1021.8 377.5L1019.5 394.0L1019.5 403.0L1021.3 412.0L1028.2 433.0L1028.6 439.0L1027.4 446.5L1023.9 455.5L1015.6 470.5L1010.7 478.0L1005.0 485.0L997.5 492.0L990.0 497.4L982.5 501.5L973.5 505.0L963.0 507.7L942.0 511.3L917.7 517.0L895.2 517.0L888.0 515.5L878.7 512.5L868.9 508.0L859.5 502.3L852.0 496.5L845.0 490.0L838.5 482.5L833.3 475.0L828.4 466.0L828.0 465.2L828.0 387.9L830.7 379.0L831.9 373.0L832.6 349.0L834.8 335.5L837.3 328.0L840.1 322.0L843.7 316.0L849.0 309.5L854.9 304.0L861.0 299.6L867.0 296.2Z"/>
<path fill="#e8e800" d="M894.0 297.9L901.5 297.6L910.5 298.3L919.5 300.1L928.5 302.8L942.0 308.5L966.0 321.5L987.7 331.0L996.0 336.2L1003.6 343.0L1009.9 352.0L1013.6 361.0L1014.8 367.0L1015.2 373.0L1013.5 394.0L1013.7 401.5L1015.4 410.5L1021.1 428.5L1022.3 436.0L1021.6 443.5L1019.2 451.0L1012.9 463.0L1006.5 472.8L1000.5 479.9L993.0 486.6L984.0 492.4L975.0 496.4L966.0 498.9L954.0 500.5L940.5 501.8L921.0 506.6L910.5 507.8L904.5 507.5L897.9 506.5L891.0 504.6L884.3 502.0L875.4 497.5L867.0 492.1L858.7 485.5L852.0 478.9L846.3 472.0L841.5 464.5L837.8 457.0L834.5 448.0L832.7 440.5L831.6 433.0L831.6 418.0L832.6 410.5L834.4 403.0L841.5 383.5L843.4 376.0L843.7 371.5L842.3 356.5L842.3 347.5L843.7 338.5L846.0 331.3L849.1 325.0L853.2 319.0L858.0 313.7L864.2 308.5L870.0 304.9L877.5 301.5L885.0 299.3Z"/>
<path fill="#ffff00" d="M891.0 305.5L903.0 304.4L915.0 305.4L927.0 308.3L940.5 313.5L963.0 324.8L982.5 333.6L990.0 338.0L996.0 342.7L1000.5 347.5L1003.6 352.0L1006.6 358.0L1008.5 364.0L1009.5 371.5L1009.4 379.0L1008.1 394.0L1008.4 401.5L1010.1 409.0L1015.4 425.5L1016.9 433.0L1017.0 439.0L1015.4 446.5L1012.3 454.0L1006.5 463.9L1000.5 471.8L994.4 478.0L987.0 483.6L979.5 487.8L970.5 491.1L961.5 493.0L940.5 494.6L921.0 498.4L913.5 499.2L906.0 498.6L897.0 495.9L889.5 492.5L880.3 487.0L870.1 479.5L862.5 472.8L857.6 467.5L853.2 461.5L849.0 454.2L845.6 446.5L843.2 439.0L842.0 433.0L841.3 425.5L841.3 418.0L843.3 404.5L849.9 385.0L851.6 377.5L851.7 371.5L849.8 352.0L850.3 344.5L851.7 338.5L854.0 332.5L857.5 326.5L861.0 322.0L865.5 317.5L871.5 313.1L877.5 309.8L883.5 307.4Z"/>
<path fill="#e8b400" d="M897.0 312.9L907.5 312.2L919.5 313.4L931.5 316.5L945.0 321.9L976.5 336.6L985.5 341.7L991.0 346.0L994.5 349.7L998.1 355.0L1000.3 359.5L1002.1 365.5L1003.0 373.0L1002.8 380.5L1001.4 394.0L1001.5 400.0L1002.8 406.0L1008.5 421.0L1010.6 428.5L1011.2 437.5L1009.8 445.0L1006.7 452.5L1002.2 460.0L997.5 466.0L991.5 471.9L985.5 476.5L979.5 480.0L972.0 483.2L964.5 485.2L954.0 486.5L919.5 488.3L912.0 487.6L906.0 485.6L900.1 482.5L893.8 478.0L871.5 458.5L863.9 449.5L860.3 443.5L857.4 437.5L854.4 427.0L853.4 415.0L854.2 406.0L858.6 386.5L859.7 379.0L859.8 371.5L858.3 352.0L859.6 343.0L861.9 337.0L864.6 332.5L868.5 327.5L873.0 323.3L877.5 320.1L883.5 316.8L889.8 314.5Z"/>
<path fill="#e08010" d="M910.5 322.0L922.5 322.9L934.5 325.8L948.0 330.9L967.9 340.0L978.0 345.5L984.7 350.5L989.6 356.5L992.4 362.5L993.9 368.5L994.5 376.0L991.8 395.5L991.8 401.5L993.0 406.0L999.7 418.0L1002.8 425.5L1004.1 434.5L1003.1 442.0L1000.8 448.0L997.3 454.0L993.0 459.3L987.0 464.9L981.0 469.2L975.0 472.3L969.0 474.6L961.2 476.5L949.5 477.6L934.5 477.1L924.0 475.1L916.5 471.9L909.0 465.8L898.5 452.4L885.0 440.4L879.2 434.5L873.8 427.0L870.5 419.5L868.9 412.0L868.5 404.5L870.5 379.0L870.0 355.0L870.8 349.0L872.2 344.5L874.6 340.0L878.0 335.5L882.0 331.7L887.4 328.0L892.5 325.5L898.5 323.5Z"/>
<path fill="#e86010" d="M909.0 332.4L918.0 331.7L927.0 332.5L937.5 335.0L948.0 338.7L963.0 345.8L973.3 352.0L979.5 357.5L982.5 362.5L984.4 368.5L985.0 376.0L984.7 380.5L982.0 395.5L982.3 403.0L984.6 409.0L992.1 419.5L994.7 424.0L996.6 430.0L996.7 436.0L995.7 440.5L993.7 445.0L988.1 452.5L979.5 459.6L969.0 464.8L958.5 467.4L946.5 467.9L936.0 466.2L928.4 463.0L924.0 459.8L919.7 455.5L906.0 437.3L889.3 419.5L884.7 412.0L882.8 406.0L882.0 398.5L882.6 380.5L882.1 362.5L882.7 356.5L883.8 352.0L887.7 344.5L892.5 339.6L900.0 335.1Z"/>
<path fill="#f03c10" d="M915.0 341.4L922.5 340.7L930.0 341.2L938.5 343.0L946.5 345.8L955.5 350.2L962.9 355.0L969.0 360.5L972.3 365.5L973.8 370.0L974.4 376.0L971.6 395.5L972.1 403.0L973.7 407.5L976.3 412.0L987.5 425.5L989.4 430.0L989.6 433.0L988.6 437.5L987.1 440.5L982.5 446.2L976.3 451.0L967.5 455.3L958.5 457.6L949.5 458.1L942.0 457.0L935.8 454.0L932.4 451.0L928.9 446.5L921.0 432.4L917.4 427.0L913.5 422.5L901.5 410.7L897.2 404.5L895.7 400.0L895.0 394.0L894.9 380.5L893.7 367.0L894.7 358.0L897.4 352.0L901.5 347.5L907.5 343.7Z"/>
<path fill="#ff0000" d="M919.5 351.9L924.0 350.9L930.0 350.6L936.0 351.4L942.0 353.2L948.0 356.3L952.2 359.5L955.5 362.8L958.3 367.0L959.9 371.5L960.3 376.0L959.7 380.5L958.3 385.0L955.5 390.6L952.5 394.4L949.5 396.8L945.0 398.5L931.5 401.5L924.0 401.2L919.5 399.5L916.5 397.7L913.5 394.8L910.9 391.0L909.0 386.5L907.2 379.0L906.4 371.5L906.8 365.5L908.2 361.0L910.5 357.6L915.0 353.9ZM957.0 419.5L961.5 420.5L966.0 423.0L970.9 427.0L973.0 430.0L973.5 433.0L972.2 436.0L968.6 439.0L964.5 440.9L958.5 442.0L954.0 441.5L951.6 440.5L949.6 439.0L947.8 436.0L947.3 430.0L949.2 424.0L952.5 420.6Z"/>
<path fill="none" stroke="#3a343a" stroke-width="1.6" d="M956.7 292.0L975.0 303.2L1002.0 315.6L1009.5 320.2L1015.7 325.0L1023.1 332.5L1029.6 341.5L1034.6 352.0L1037.4 362.5L1038.1 370.0L1037.8 376.0L1032.9 395.5L1032.0 403.0L1033.4 410.5L1040.5 427.0L1042.6 434.5L1043.0 443.5L1041.0 454.0L1037.7 463.0L1032.5 473.5L1026.5 484.0L1020.2 493.0L1014.0 500.3L1008.0 506.1L1000.5 512.1L993.1 517.0M828.0 299.7L835.1 292.0M834.1 517.0L828.0 511.5M927.9 292.0L945.0 300.0L969.2 314.5L987.0 321.6L996.8 326.5L1007.2 334.0L1015.2 343.0L1021.1 353.5L1024.3 364.0L1025.0 374.5L1022.0 394.0L1021.9 403.0L1023.6 412.0L1030.6 431.5L1031.5 437.5L1030.9 443.5L1028.8 451.0L1026.0 457.4L1018.9 470.5L1014.2 478.0L1009.8 484.0L1005.0 489.4L999.4 494.5L988.5 502.1L976.5 507.7L964.5 511.2L936.7 517.0M828.0 351.8L829.2 341.5L831.3 332.5L834.7 323.5L838.8 316.0L844.4 308.5L850.5 302.4L858.0 296.7L866.7 292.0M876.7 517.0L862.5 510.3L855.0 505.5L848.6 500.5L837.0 489.0L828.0 476.3M888.0 302.4L900.0 301.0L912.0 301.8L924.0 304.4L937.5 309.3L964.5 323.2L984.0 331.8L991.5 336.0L996.8 340.0L1002.0 345.2L1005.9 350.5L1009.0 356.5L1011.4 364.0L1012.3 371.5L1012.2 379.0L1010.8 394.0L1011.1 401.5L1012.6 409.0L1017.8 425.5L1019.4 433.0L1019.6 439.0L1018.1 446.5L1015.0 454.0L1009.1 464.5L1003.5 472.4L997.5 478.9L991.5 484.0L984.0 488.9L976.5 492.4L967.5 495.2L958.5 496.7L940.5 498.0L922.5 502.2L915.0 503.3L904.5 503.0L894.5 500.5L886.5 497.2L877.5 492.2L868.5 486.0L861.0 479.8L855.0 473.7L850.1 467.5L845.4 460.0L841.9 452.5L838.8 443.5L837.2 436.0L836.3 428.5L836.3 419.5L837.1 412.0L838.6 404.5L846.1 383.5L847.9 376.0L846.1 350.5L846.7 343.0L848.1 337.0L850.4 331.0L853.7 325.0L858.0 319.4L862.5 314.9L868.5 310.4L874.4 307.0L880.5 304.5L887.5 302.5M900.0 316.0L910.5 315.5L922.5 317.0L934.5 320.3L949.5 326.5L975.2 338.5L985.3 344.5L988.9 347.5L993.0 352.0L995.9 356.5L997.9 361.0L999.5 367.0L1000.2 374.5L998.3 394.0L998.3 400.0L999.7 406.0L1006.1 421.0L1008.2 428.5L1008.8 437.5L1007.3 445.0L1004.8 451.0L1000.2 458.5L994.5 465.4L988.5 470.8L982.5 475.0L975.0 478.8L967.5 481.3L960.0 482.8L948.0 483.8L924.0 484.0L915.0 482.7L907.5 479.7L899.1 473.5L873.0 448.9L865.6 439.0L861.4 430.0L859.2 421.0L858.6 412.0L859.4 403.0L863.1 380.5L863.3 371.5L862.0 352.0L862.4 347.5L863.7 343.0L866.5 337.0L869.6 332.5L873.0 328.7L877.5 324.9L882.0 321.9L888.0 319.1L894.0 317.2L899.9 316.0M904.5 330.9L913.5 329.6L922.5 329.9L933.0 331.8L943.5 335.2L958.2 341.5L972.2 349.0L980.1 355.0L984.3 361.0L986.6 368.5L987.3 376.0L987.0 380.5L984.2 395.5L984.4 403.0L986.8 409.0L993.1 418.0L996.4 424.0L998.2 430.0L998.2 437.5L997.0 442.0L994.5 447.2L991.5 451.5L987.0 456.3L982.4 460.0L976.5 463.7L970.5 466.5L964.5 468.4L954.0 470.1L943.5 470.0L933.0 468.0L925.4 464.5L921.0 461.2L916.9 457.0L904.5 440.8L887.1 422.5L882.0 414.4L879.8 407.5L879.0 400.0L879.7 380.5L879.4 361.0L880.7 352.0L884.0 344.5L889.3 338.5L896.0 334.0L904.0 331.0M921.0 344.4L927.0 344.3L934.5 345.2L942.0 347.3L949.5 350.5L957.0 355.0L962.4 359.5L966.2 364.0L968.4 368.5L969.5 373.0L969.6 377.5L966.4 395.5L966.3 400.0L967.0 404.5L968.2 407.5L970.9 412.0L984.3 427.0L985.8 430.0L986.0 433.0L985.2 436.0L982.5 440.5L976.5 446.0L967.5 450.7L957.0 453.3L951.0 453.6L945.0 452.8L940.5 451.1L938.5 449.5L934.0 443.5L927.6 428.5L924.2 422.5L920.2 418.0L907.5 407.1L904.2 403.0L902.0 398.5L900.3 391.0L898.4 370.0L898.5 364.0L899.8 358.0L902.3 353.5L907.2 349.0L913.5 346.0L920.3 344.5"/>
</g>
<circle cx="941" cy="405" r="110" fill="none" stroke="#000" stroke-width="2.8"/>
<path fill="#000" d="M912.5 311.7l3.9 3.9l-3.9 3.9l-3.9-3.9zM969.5 311.7l3.9 3.9l-3.9 3.9l-3.9-3.9zM862.3 344.4l3.9 3.9l-3.9 3.9l-3.9-3.9zM900.2 353l3.9 3.9l-3.9 3.9l-3.9-3.9zM941 355l3.9 3.9l-3.9 3.9l-3.9-3.9zM981.8 353l3.9 3.9l-3.9 3.9l-3.9-3.9zM1019.7 344.4l3.9 3.9l-3.9 3.9l-3.9-3.9zM848 371.5l3.9 3.9l-3.9 3.9l-3.9-3.9zM894.9 375.8l3.9 3.9l-3.9 3.9l-3.9-3.9zM941 378.1l3.9 3.9l-3.9 3.9l-3.9-3.9zM987.1 375.8l3.9 3.9l-3.9 3.9l-3.9-3.9zM1034 371.5l3.9 3.9l-3.9 3.9l-3.9-3.9zM844.7 401.1l3.9 3.9l-3.9 3.9l-3.9-3.9zM892.9 401.1l3.9 3.9l-3.9 3.9l-3.9-3.9zM941 401.1l3.9 3.9l-3.9 3.9l-3.9-3.9zM989.1 401.1l3.9 3.9l-3.9 3.9l-3.9-3.9zM1037.3 401.1l3.9 3.9l-3.9 3.9l-3.9-3.9zM848 430.9l3.9 3.9l-3.9 3.9l-3.9-3.9zM894.7 426.4l3.9 3.9l-3.9 3.9l-3.9-3.9zM941 424.7l3.9 3.9l-3.9 3.9l-3.9-3.9zM987.3 426.4l3.9 3.9l-3.9 3.9l-3.9-3.9zM1034 430.9l3.9 3.9l-3.9 3.9l-3.9-3.9zM862.3 459.2l3.9 3.9l-3.9 3.9l-3.9-3.9zM899.7 449.8l3.9 3.9l-3.9 3.9l-3.9-3.9zM941 447.5l3.9 3.9l-3.9 3.9l-3.9-3.9zM982.3 449.8l3.9 3.9l-3.9 3.9l-3.9-3.9zM1019.7 459.2l3.9 3.9l-3.9 3.9l-3.9-3.9zM912.5 490.8l3.9 3.9l-3.9 3.9l-3.9-3.9zM941 494l3.9 3.9l-3.9 3.9l-3.9-3.9zM969.5 490.8l3.9 3.9l-3.9 3.9l-3.9-3.9z"/>
<path d="M1353 296L1358.5 288L1368.8 279L1373.2 279L1383.5 288L1389 296" fill="#fff" stroke="#000" stroke-width="2.9" stroke-linejoin="round"/>
<path d="M1264.8 376.5L1256.5 375.5Q1252.2 375.5 1252.2 380.5L1252.2 418Q1250.2 420 1250.2 423L1250.2 432Q1250.2 437.5 1257 437.5L1265.8 437" fill="#fff" stroke="#000" stroke-width="2.9" stroke-linejoin="round"/>
<path d="M1477.2 376.5L1485.5 375.5Q1489.8 375.5 1489.8 380.5L1489.8 418Q1491.8 420 1491.8 423L1491.8 432Q1491.8 437.5 1485 437.5L1476.2 437" fill="#fff" stroke="#000" stroke-width="2.9" stroke-linejoin="round"/>
<clipPath id="hc3"><circle cx="1371" cy="405" r="110"/></clipPath>
<g clip-path="url(#hc3)">
<circle cx="1371" cy="405" r="112" fill="#000080"/>
<path fill="#0000a8" d="M1259.5 292.0L1483.0 292.0L1483.0 517.0L1481.5 517.0L1258.0 517.0L1258.0 292.0Z"/>
<path fill="#0000c8" d="M1259.5 292.0L1483.0 292.0L1483.0 517.0L1481.5 517.0L1258.0 517.0L1258.0 292.0Z"/>
<path fill="#0000f8" d="M1259.5 292.0L1483.0 292.0L1483.0 517.0L1481.5 517.0L1258.0 517.0L1258.0 292.0Z"/>
<path fill="#0840d0" d="M1259.5 292.0L1483.0 292.0L1483.0 517.0L1481.5 517.0L1258.0 517.0L1258.0 292.0Z"/>
<path fill="#0878d0" d="M1259.5 292.0L1483.0 292.0L1483.0 517.0L1481.5 517.0L1258.0 517.0L1258.0 292.0Z"/>
<path fill="#00a4cc" d="M1259.5 292.0L1483.0 292.0L1483.0 517.0L1481.5 517.0L1258.0 517.0L1258.0 292.0Z"/>
<path fill="#00c4c8" d="M1259.5 292.0L1483.0 292.0L1483.0 374.4L1472.5 382.0L1466.5 387.2L1462.9 392.5L1461.9 397.0L1462.1 400.0L1463.2 403.0L1466.5 406.7L1469.5 408.1L1473.3 409.0L1483.0 409.6L1483.0 496.0L1483.0 517.0L1258.0 517.0L1258.0 292.0Z"/>
<path fill="#00fcfc" d="M1259.5 292.0L1483.0 292.0L1483.0 356.6L1474.0 364.8L1465.0 375.6L1458.5 382.0L1455.2 388.0L1454.3 394.0L1454.8 398.5L1456.5 403.0L1458.5 406.0L1461.6 409.0L1465.0 411.1L1469.5 412.9L1483.0 415.6L1483.0 488.5L1483.0 517.0L1258.0 517.0L1258.0 292.0Z"/>
<path fill="#00f0f0" d="M1259.5 292.0L1483.0 292.0L1483.0 326.6L1468.0 334.1L1450.0 340.7L1444.0 343.7L1439.0 347.5L1436.3 350.5L1434.7 353.5L1434.1 356.5L1434.8 361.0L1439.2 374.5L1442.8 394.0L1445.0 400.0L1448.7 406.0L1453.0 410.6L1459.7 415.0L1466.5 417.8L1483.0 423.0L1483.0 469.0L1483.0 517.0L1258.0 517.0L1258.0 292.0Z"/>
<path fill="#40c0c8" d="M1259.5 292.0L1483.0 292.0L1483.0 301.5L1461.2 313.0L1406.6 338.5L1395.7 346.0L1393.0 349.0L1392.0 352.0L1396.5 361.0L1401.4 367.0L1406.5 371.1L1417.0 377.3L1420.5 380.5L1424.5 386.2L1434.7 403.0L1438.2 407.5L1442.6 412.0L1447.0 415.3L1453.0 418.6L1472.0 425.5L1483.0 430.8L1483.0 455.5L1483.0 517.0L1258.0 517.0L1258.0 385.6L1273.0 383.6L1279.0 382.0L1283.5 378.9L1285.3 376.0L1286.0 373.0L1285.8 370.0L1284.8 367.0L1280.4 361.0L1271.5 353.4L1258.0 344.4L1258.0 292.0ZM1369.1 347.5L1366.0 349.5L1364.5 352.0L1364.2 355.0L1365.6 358.0L1367.5 359.8L1370.5 361.1L1374.5 361.0L1378.0 359.8L1381.1 358.0L1384.0 355.0L1385.0 352.0L1384.3 350.5L1381.0 348.3L1376.5 346.9L1372.0 346.8Z"/>
<path fill="#40e080" d="M1259.5 292.0L1470.1 292.0L1452.6 302.5L1432.0 313.7L1415.5 321.7L1402.0 327.2L1390.0 330.5L1363.0 332.0L1357.0 333.2L1352.5 334.9L1347.2 338.5L1343.9 343.0L1342.3 347.5L1341.9 353.5L1342.7 358.0L1344.5 362.5L1346.7 365.5L1349.5 367.9L1355.5 370.2L1373.5 371.8L1381.0 374.2L1383.7 376.0L1386.7 379.0L1391.5 386.6L1394.5 390.0L1397.5 391.5L1409.5 394.4L1415.5 397.5L1421.5 402.3L1432.7 413.5L1438.9 418.0L1448.3 422.5L1463.5 426.8L1469.5 429.0L1476.4 433.0L1483.0 438.2L1483.0 517.0L1258.0 517.0L1258.0 407.0L1263.2 401.5L1268.5 398.2L1274.5 396.0L1289.5 392.2L1298.4 388.0L1302.2 385.0L1304.6 382.0L1305.9 379.0L1306.7 374.5L1306.3 370.0L1304.9 365.5L1300.2 358.0L1291.0 348.9L1282.0 337.2L1275.2 329.5L1267.0 321.7L1258.0 314.1L1258.0 292.0Z"/>
<path fill="#80e080" d="M1270.0 292.0L1445.8 292.0L1426.0 304.8L1415.5 310.8L1406.5 315.0L1396.0 318.8L1388.5 320.3L1382.5 320.8L1375.0 320.5L1342.0 316.9L1321.0 319.7L1313.5 319.9L1306.0 318.3L1297.0 313.6L1283.5 303.6L1269.4 292.0ZM1304.5 410.3L1309.0 410.3L1313.5 411.8L1318.0 415.0L1324.0 420.9L1328.5 422.7L1334.5 421.9L1354.0 415.2L1366.0 412.6L1388.5 411.4L1405.0 412.2L1414.0 414.8L1429.0 423.1L1438.0 427.0L1447.0 429.2L1462.0 431.2L1466.5 432.8L1469.2 434.5L1472.7 437.5L1476.6 442.0L1483.0 452.9L1483.0 517.0L1448.5 517.0L1258.0 517.0L1258.0 456.8L1276.0 449.4L1282.0 445.8L1286.3 442.0L1289.7 437.5L1291.6 433.0L1292.4 428.5L1292.6 419.5L1293.5 416.5L1295.5 414.0L1298.5 412.1Z"/>
<path fill="#98e040" d="M1324.0 292.0L1422.6 292.0L1412.2 299.5L1403.5 304.7L1396.0 308.2L1390.0 309.7L1382.5 309.9L1375.0 308.6L1367.5 306.6ZM1379.5 430.0L1394.5 431.0L1408.0 433.9L1425.2 440.5L1434.8 445.0L1439.4 448.0L1440.3 449.5L1440.3 451.0L1437.0 460.0L1435.8 467.5L1435.9 473.5L1437.3 481.0L1439.9 488.5L1444.0 496.7L1450.0 505.8L1458.6 517.0L1342.0 517.0L1258.0 517.0L1258.0 479.6L1295.5 457.8L1307.5 451.7L1316.5 448.7L1340.5 443.1L1369.0 431.4L1373.5 430.4ZM1453.0 445.0L1456.0 443.7L1459.0 444.1L1459.9 445.0L1460.2 446.5L1459.0 448.4L1456.0 449.1L1452.3 448.0L1451.7 446.5Z"/>
<path fill="#c8e040" d="M1382.5 292.0L1390.0 292.1L1385.5 292.5ZM1325.5 468.8L1334.5 468.4L1342.0 469.4L1348.0 471.7L1352.5 475.4L1354.3 478.0L1356.1 482.5L1359.1 499.0L1360.8 505.0L1363.4 511.0L1367.0 517.0L1300.0 517.0L1258.0 517.0L1258.0 510.7L1278.7 493.0L1297.0 479.8L1304.5 475.5L1312.0 472.3L1319.5 469.9Z"/>
<path fill="#e8e800" d="M1318.0 488.3L1324.0 487.2L1328.5 487.5L1333.0 489.1L1337.5 492.6L1339.9 496.0L1341.8 500.5L1345.4 517.0L1310.5 517.0L1282.8 517.0L1292.2 506.5L1301.9 497.5L1310.5 491.5Z"/>
<path fill="none" stroke="#3a343a" stroke-width="1.6" d="M1483.0 357.9L1475.5 364.5L1465.5 376.0L1459.0 382.4L1455.8 388.0L1454.7 394.0L1455.2 398.5L1456.9 403.0L1458.9 406.0L1462.0 409.0L1465.0 410.8L1469.5 412.6L1483.0 415.2M1483.0 325.7L1468.0 333.2L1450.0 339.8L1443.4 343.0L1439.1 346.0L1434.7 350.5L1433.1 353.5L1432.6 356.5L1433.5 361.0L1438.4 374.5L1442.9 395.5L1445.4 401.5L1448.3 406.0L1453.0 410.8L1459.3 415.0L1466.5 418.0L1483.0 423.2M1483.0 299.3L1460.1 311.5L1411.7 334.0L1391.5 344.4L1387.0 345.3L1373.5 344.0L1367.5 345.2L1364.5 347.0L1362.6 349.0L1361.2 353.5L1361.9 356.5L1364.0 359.5L1366.0 361.1L1369.5 362.5L1376.4 362.5L1388.5 359.3L1391.5 360.5L1402.0 370.5L1406.5 373.6L1415.5 378.6L1418.5 381.1L1423.0 386.9L1434.4 404.5L1438.2 409.0L1443.1 413.5L1451.5 418.6L1471.0 425.7L1483.0 431.6M1258.0 388.1L1274.5 385.1L1280.5 383.2L1283.5 381.4L1286.0 379.0L1287.7 376.0L1288.3 373.0L1288.1 370.0L1287.2 367.0L1285.0 363.2L1282.0 359.6L1271.5 350.1L1258.0 340.5M1455.3 292.0L1438.7 302.5L1423.0 311.5L1411.0 317.4L1400.5 321.5L1391.5 323.9L1384.0 324.8L1357.0 324.1L1345.0 325.0L1336.2 328.0L1331.1 331.0L1321.0 338.3L1318.0 339.7L1315.0 340.3L1309.0 339.3L1301.5 335.2L1278.3 313.0L1258.0 295.7M1258.0 446.9L1268.5 443.5L1274.5 440.9L1279.0 437.6L1280.5 435.1L1280.9 431.5L1280.1 428.5L1273.1 418.0L1271.8 415.0L1271.5 410.5L1273.6 406.0L1275.8 404.5L1277.5 404.1L1306.0 400.1L1313.5 401.3L1325.5 407.0L1333.0 408.6L1339.0 408.2L1355.5 405.4L1370.5 406.0L1384.0 404.5L1391.5 404.2L1402.0 404.6L1409.5 405.7L1417.0 408.9L1429.3 418.0L1438.0 422.9L1447.0 426.1L1463.5 429.5L1468.5 431.5L1476.6 437.5L1483.0 444.7M1366.0 378.7L1370.5 377.8L1373.5 378.7L1375.0 380.0L1376.1 382.0L1376.1 383.5L1375.5 385.0L1373.5 386.6L1370.5 387.4L1367.5 387.4L1364.5 386.6L1363.0 385.3L1362.3 383.5L1362.5 382.0L1365.3 379.0M1424.8 292.0L1412.1 301.0L1402.0 306.7L1393.0 310.1L1385.5 311.1L1378.0 310.4L1369.3 308.5L1316.3 292.0M1258.0 477.4L1298.5 454.1L1307.5 449.6L1315.0 447.1L1330.0 444.1L1339.0 441.6L1364.5 430.7L1372.0 428.4L1378.0 427.8L1385.5 428.0L1402.0 430.1L1411.0 432.6L1433.5 440.9L1439.5 442.4L1444.0 442.5L1454.5 440.3L1459.0 440.1L1462.0 441.2L1463.9 443.5L1464.8 448.0L1463.9 451.0L1462.0 453.1L1460.0 454.0L1448.5 454.3L1444.0 456.2L1442.0 458.5L1439.9 463.0L1439.2 467.5L1439.3 472.0L1441.0 479.5L1445.5 489.3L1453.0 500.6L1465.7 517.0M1391.4 292.0L1387.0 292.8L1380.6 292.0M1258.0 510.3L1284.1 488.5L1294.0 481.4L1302.2 476.5L1310.5 472.6L1319.5 469.7L1328.5 468.2L1336.0 468.2L1342.0 469.1L1346.5 470.6L1351.0 473.3L1354.0 476.6L1355.5 479.5L1356.9 484.0L1359.0 497.5L1360.5 503.5L1363.0 509.6L1367.4 517.0"/>
</g>
<circle cx="1371" cy="405" r="110" fill="none" stroke="#000" stroke-width="2.8"/>
<path fill="#000" d="M1342.5 311.7l3.9 3.9l-3.9 3.9l-3.9-3.9zM1399.5 311.7l3.9 3.9l-3.9 3.9l-3.9-3.9zM1292.3 344.4l3.9 3.9l-3.9 3.9l-3.9-3.9zM1330.2 353l3.9 3.9l-3.9 3.9l-3.9-3.9zM1371 355l3.9 3.9l-3.9 3.9l-3.9-3.9zM1411.8 353l3.9 3.9l-3.9 3.9l-3.9-3.9zM1449.7 344.4l3.9 3.9l-3.9 3.9l-3.9-3.9zM1278 371.5l3.9 3.9l-3.9 3.9l-3.9-3.9zM1324.9 375.8l3.9 3.9l-3.9 3.9l-3.9-3.9zM1371 378.1l3.9 3.9l-3.9 3.9l-3.9-3.9zM1417.1 375.8l3.9 3.9l-3.9 3.9l-3.9-3.9zM1464 371.5l3.9 3.9l-3.9 3.9l-3.9-3.9zM1274.7 401.1l3.9 3.9l-3.9 3.9l-3.9-3.9zM1322.9 401.1l3.9 3.9l-3.9 3.9l-3.9-3.9zM1371 401.1l3.9 3.9l-3.9 3.9l-3.9-3.9zM1419.1 401.1l3.9 3.9l-3.9 3.9l-3.9-3.9zM1467.3 401.1l3.9 3.9l-3.9 3.9l-3.9-3.9zM1278 430.9l3.9 3.9l-3.9 3.9l-3.9-3.9zM1324.7 426.4l3.9 3.9l-3.9 3.9l-3.9-3.9zM1371 424.7l3.9 3.9l-3.9 3.9l-3.9-3.9zM1417.3 426.4l3.9 3.9l-3.9 3.9l-3.9-3.9zM1464 430.9l3.9 3.9l-3.9 3.9l-3.9-3.9zM1292.3 459.2l3.9 3.9l-3.9 3.9l-3.9-3.9zM1329.7 449.8l3.9 3.9l-3.9 3.9l-3.9-3.9zM1371 447.5l3.9 3.9l-3.9 3.9l-3.9-3.9zM1412.3 449.8l3.9 3.9l-3.9 3.9l-3.9-3.9zM1449.7 459.2l3.9 3.9l-3.9 3.9l-3.9-3.9zM1342.5 490.8l3.9 3.9l-3.9 3.9l-3.9-3.9zM1371 494l3.9 3.9l-3.9 3.9l-3.9-3.9zM1399.5 490.8l3.9 3.9l-3.9 3.9l-3.9-3.9z"/>
<path d="M143 651.5L148.5 643.5L158.8 634.5L163.2 634.5L173.5 643.5L179 651.5" fill="#fff" stroke="#000" stroke-width="2.9" stroke-linejoin="round"/>
<path d="M54.8 732L46.5 731Q42.2 731 42.2 736L42.2 773.5Q40.2 775.5 40.2 778.5L40.2 787.5Q40.2 793 47 793L55.8 792.5" fill="#fff" stroke="#000" stroke-width="2.9" stroke-linejoin="round"/>
<path d="M267.2 732L275.5 731Q279.8 731 279.8 736L279.8 773.5Q281.8 775.5 281.8 778.5L281.8 787.5Q281.8 793 275 793L266.2 792.5" fill="#fff" stroke="#000" stroke-width="2.9" stroke-linejoin="round"/>
<clipPath id="hc4"><circle cx="161" cy="760.5" r="110"/></clipPath>
<g clip-path="url(#hc4)">
<circle cx="161" cy="760.5" r="112" fill="#000080"/>
<path fill="#0000a8" d="M49.5 647.5L273.0 647.5L273.0 872.5L271.5 872.5L48.0 872.5L48.0 647.5Z"/>
<path fill="#0000c8" d="M49.5 647.5L273.0 647.5L273.0 872.5L271.5 872.5L48.0 872.5L48.0 647.5Z"/>
<path fill="#0000f8" d="M49.5 647.5L273.0 647.5L273.0 872.5L271.5 872.5L48.0 872.5L48.0 647.5Z"/>
<path fill="#0840d0" d="M49.5 647.5L273.0 647.5L273.0 872.5L271.5 872.5L48.0 872.5L48.0 647.5Z"/>
<path fill="#0878d0" d="M49.5 647.5L273.0 647.5L273.0 872.5L271.5 872.5L48.0 872.5L48.0 647.5Z"/>
<path fill="#00a4cc" d="M49.5 647.5L273.0 647.5L273.0 872.5L271.5 872.5L48.0 872.5L48.0 647.5ZM205.3 793.0L204.4 796.0L205.0 797.5L207.0 798.6L209.1 797.5L209.7 796.0L208.6 793.0L207.0 792.3Z"/>
<path fill="#00c4c8" d="M49.5 647.5L273.0 647.5L273.0 872.5L271.5 872.5L48.0 872.5L48.0 647.5ZM204.0 779.5L199.5 781.4L196.5 783.7L191.6 790.0L189.6 794.5L188.3 799.0L188.0 803.5L188.4 806.5L189.5 809.5L191.7 812.5L196.5 816.0L204.0 818.1L211.5 817.7L217.5 815.2L220.5 812.8L223.2 809.5L225.0 805.8L226.0 802.0L225.6 794.5L224.1 790.0L222.4 787.0L217.5 781.9L211.5 779.2L208.5 778.9Z"/>
<path fill="#00fcfc" d="M49.5 647.5L273.0 647.5L273.0 872.5L271.5 872.5L48.0 872.5L48.0 647.5ZM203.1 767.5L199.5 769.4L195.0 773.0L190.5 777.7L185.9 784.0L180.7 793.0L175.7 803.5L174.2 808.0L174.0 812.5L174.8 815.5L176.7 818.5L179.9 821.5L184.5 824.3L195.0 828.1L201.0 829.2L207.0 829.6L213.0 829.1L219.0 827.5L223.5 825.2L228.2 821.5L231.8 817.0L234.2 812.5L235.8 806.5L236.2 800.5L235.3 794.5L232.6 787.0L228.2 779.5L223.5 773.8L217.5 768.9L213.0 766.8L208.5 766.2Z"/>
<path fill="#00f0f0" d="M49.5 647.5L273.0 647.5L273.0 872.5L271.5 872.5L48.0 872.5L48.0 647.5ZM204.4 742.0L199.5 744.8L193.5 751.2L187.5 760.1L174.1 782.5L169.8 788.5L165.0 793.2L159.0 796.9L153.0 799.2L148.5 800.3L142.5 800.6L138.0 799.8L130.5 796.3L117.8 787.0L115.5 786.1L112.5 785.7L104.5 787.0L91.2 791.5L81.9 796.0L76.6 800.5L74.8 803.5L73.7 806.5L73.4 814.0L76.2 824.5L80.7 833.5L85.6 839.5L93.0 845.3L100.5 848.8L109.5 851.1L118.5 851.8L127.5 851.2L133.5 849.9L150.0 844.6L163.5 842.6L184.5 842.9L208.5 845.9L217.5 845.5L225.0 843.8L231.0 841.3L236.0 838.0L240.9 833.5L244.3 829.0L246.7 824.5L248.5 820.0L250.0 814.0L250.5 808.0L250.2 802.0L247.5 791.5L244.1 784.0L237.0 771.7L228.0 757.0L222.0 748.9L217.5 744.6L213.0 742.1L208.5 741.2Z"/>
<path fill="#40c0c8" d="M49.5 647.5L273.0 647.5L273.0 872.5L166.3 872.5L175.5 869.0L184.5 867.0L192.0 866.5L216.0 866.9L225.0 865.7L232.5 863.6L241.5 859.5L249.0 854.2L255.8 847.0L261.2 838.0L264.4 829.0L265.9 820.0L265.9 811.0L264.1 800.5L259.5 788.5L248.5 770.5L244.6 763.0L241.7 755.5L236.1 737.5L231.0 727.6L226.5 722.4L223.5 720.2L220.5 718.9L213.0 717.8L198.0 717.9L189.0 716.0L183.0 712.5L171.0 702.4L166.5 700.0L162.0 698.6L156.0 698.4L153.0 699.1L150.0 700.7L146.8 704.5L145.7 707.5L145.3 710.5L145.6 713.5L146.7 716.5L150.0 720.7L155.6 724.0L169.5 728.9L173.6 733.0L175.1 737.5L175.5 742.0L175.1 746.5L172.4 757.0L166.5 770.0L163.5 774.7L160.5 778.2L156.0 780.7L150.0 781.0L144.0 779.5L130.5 773.7L123.0 771.5L109.5 770.4L96.0 771.1L78.0 774.4L66.5 778.0L61.5 780.5L56.2 784.0L48.0 791.8L48.0 647.5Z"/>
<path fill="#40e080" d="M49.5 647.5L273.0 647.5L273.0 794.0L267.6 784.0L256.5 768.2L253.5 763.0L250.7 754.0L248.4 736.0L246.5 728.5L242.0 719.5L235.5 711.8L229.5 707.3L223.5 704.4L217.5 702.7L202.5 700.4L195.0 697.8L186.0 693.2L165.0 681.0L153.0 676.1L145.5 674.3L136.5 673.7L126.7 674.5L118.5 676.6L113.0 679.0L108.0 682.5L104.7 686.5L103.3 691.0L104.6 695.5L114.0 706.7L115.4 709.0L116.2 712.0L115.6 715.0L111.0 726.4L109.7 733.0L110.0 739.0L112.6 749.5L112.0 752.5L110.6 754.0L107.5 755.5L64.5 767.1L56.5 770.5L48.0 775.1L48.0 647.5ZM273.0 851.3L273.0 872.5L256.5 872.5L255.9 872.5L261.0 868.0L266.3 862.0Z"/>
<path fill="#80e080" d="M49.5 647.5L87.3 647.5L81.0 654.9L76.2 664.0L73.5 673.5L72.8 683.5L73.8 692.5L76.8 701.5L79.5 706.1L89.7 718.0L93.0 725.5L93.8 730.0L93.5 736.0L92.4 740.5L89.9 745.0L85.5 749.2L79.5 752.6L73.5 754.8L60.0 758.7L48.0 763.1L48.0 647.5ZM157.5 647.5L273.0 647.5L273.0 773.2L265.5 763.1L263.0 758.5L261.6 752.5L260.8 733.0L259.1 724.0L254.6 713.5L247.5 703.8L237.0 694.0L226.5 687.5L214.5 682.9L192.0 677.6L186.0 674.8L182.2 671.5L169.5 657.8L163.5 652.5L156.7 647.5Z"/>
<path fill="#98e040" d="M49.5 647.5L51.6 647.5L50.0 659.5L50.4 671.5L52.1 680.5L54.6 688.0L60.7 700.0L66.2 707.5L76.4 719.5L79.1 724.0L80.1 727.0L80.6 731.5L79.7 736.0L76.8 740.5L73.5 743.3L69.0 745.6L64.5 747.1L48.0 750.6L48.0 647.5ZM223.5 647.5L273.0 647.5L273.0 709.9L270.2 703.0L266.3 695.5L256.5 681.3L246.0 669.4Z"/>
<path fill="none" stroke="#3a343a" stroke-width="1.6" d="M202.5 776.4L198.0 778.9L195.0 781.4L191.4 785.5L188.6 790.0L186.0 796.0L184.7 800.5L184.2 805.0L184.8 809.5L186.2 812.5L188.6 815.5L192.0 818.0L196.5 820.2L201.0 821.4L205.5 821.9L210.0 821.7L214.5 820.6L221.3 817.0L224.4 814.0L226.5 810.9L228.0 807.7L229.1 803.5L229.3 799.0L228.7 794.5L227.3 790.0L225.0 785.6L222.0 781.8L219.0 779.0L216.0 777.1L211.5 775.5L208.5 775.2L204.0 775.9M204.0 756.7L201.0 758.3L196.5 761.9L189.0 770.3L172.5 795.2L168.0 800.4L158.8 809.5L156.3 814.0L155.8 818.5L157.0 821.5L158.2 823.0L162.2 826.0L169.5 829.3L181.5 832.9L195.0 835.7L205.5 837.0L214.5 836.7L222.0 834.9L228.0 832.0L232.0 829.0L236.2 824.5L239.0 820.0L241.5 814.0L242.7 808.0L242.9 802.0L242.0 796.0L239.5 788.5L235.5 780.5L229.5 771.3L223.5 764.0L219.0 759.7L214.5 756.9L210.0 755.7L205.5 756.2M205.5 731.3L201.0 732.4L198.0 733.9L195.0 736.0L192.0 739.2L189.0 744.0L179.1 764.5L171.0 779.2L166.5 785.5L163.5 788.3L160.5 790.2L153.0 792.5L148.5 792.7L144.0 792.2L136.5 789.5L124.5 782.7L120.0 780.7L114.0 779.4L108.0 779.4L90.6 782.5L74.7 787.0L67.5 790.7L64.5 793.6L61.5 797.5L58.4 803.5L56.5 809.5L55.4 815.5L55.2 823.0L56.3 830.5L58.0 836.5L60.6 842.5L64.5 848.7L69.0 854.0L73.5 858.0L79.5 862.0L85.7 865.0L93.0 867.4L100.5 868.8L108.0 869.2L115.5 868.9L123.0 867.7L130.5 865.8L138.0 863.1L157.7 854.5L169.5 851.7L187.5 850.1L210.0 853.0L217.5 852.8L225.0 851.5L232.5 848.8L238.5 845.4L244.5 840.3L249.0 834.6L252.0 829.3L253.9 824.5L256.0 814.0L256.1 808.0L255.5 802.0L252.5 791.5L248.9 784.0L237.8 764.5L229.5 748.0L225.0 740.6L222.0 737.1L217.5 733.5L213.0 731.7L207.0 731.1M230.2 872.5L240.0 868.8L247.5 864.5L255.0 858.4L261.0 851.5L265.5 844.0L269.1 835.0L270.9 826.0L271.3 817.0L270.1 806.5L267.1 796.0L262.1 785.5L252.0 770.0L248.3 763.0L245.6 755.5L241.5 737.8L238.8 730.0L235.6 724.0L232.5 719.9L229.0 716.5L225.0 713.9L217.5 711.7L202.5 711.4L196.5 710.0L189.0 706.3L172.5 695.4L162.0 690.8L153.0 689.4L145.5 690.7L140.1 694.0L137.7 697.0L136.3 700.0L135.0 707.5L135.5 716.5L137.8 722.5L141.0 725.8L147.0 728.9L162.0 733.2L165.7 736.0L167.5 739.0L168.4 742.0L168.6 746.5L167.0 755.5L163.5 764.1L159.0 770.0L154.5 772.8L150.0 773.3L145.5 772.5L132.0 767.5L126.0 766.1L105.0 765.7L96.0 766.3L79.5 769.4L67.5 772.6L57.0 777.5L48.0 783.8M112.3 647.5L106.5 648.9L100.5 651.3L94.5 655.0L90.0 659.0L85.9 664.0L83.2 668.5L80.7 674.5L79.2 680.5L78.7 691.0L79.6 697.0L81.1 701.5L82.9 704.5L93.0 715.0L95.8 719.5L97.3 724.0L98.1 730.0L98.0 736.0L97.2 740.5L95.4 745.0L91.6 749.5L84.3 754.0L76.5 757.0L61.5 761.2L48.0 766.7M273.0 779.2L261.9 764.5L258.8 758.5L257.5 751.0L256.5 731.5L255.5 727.0L253.4 721.0L248.2 712.0L240.0 703.2L232.5 697.3L223.5 692.6L216.0 690.1L196.5 685.4L187.5 681.9L180.2 677.5L163.5 663.6L153.0 656.6L141.0 651.0L133.5 648.7L127.6 647.5M56.8 647.5L54.9 656.5L54.3 667.0L55.0 676.0L57.0 685.0L60.5 694.0L64.6 701.5L68.9 707.5L77.6 718.0L80.5 722.5L82.6 728.5L82.7 733.0L81.4 737.5L79.6 740.5L76.6 743.5L73.5 745.5L66.0 748.5L48.0 752.8M273.0 722.3L270.6 713.5L266.9 704.5L262.5 696.6L256.4 688.0L250.5 681.1L243.0 673.5L213.2 647.5"/>
</g>
<circle cx="161" cy="760.5" r="110" fill="none" stroke="#000" stroke-width="2.8"/>
<path fill="#000" d="M132.5 667.2l3.9 3.9l-3.9 3.9l-3.9-3.9zM189.5 667.2l3.9 3.9l-3.9 3.9l-3.9-3.9zM82.3 699.9l3.9 3.9l-3.9 3.9l-3.9-3.9zM120.2 708.5l3.9 3.9l-3.9 3.9l-3.9-3.9zM161 710.5l3.9 3.9l-3.9 3.9l-3.9-3.9zM201.8 708.5l3.9 3.9l-3.9 3.9l-3.9-3.9zM239.7 699.9l3.9 3.9l-3.9 3.9l-3.9-3.9zM68 727l3.9 3.9l-3.9 3.9l-3.9-3.9zM114.9 731.3l3.9 3.9l-3.9 3.9l-3.9-3.9zM161 733.6l3.9 3.9l-3.9 3.9l-3.9-3.9zM207.1 731.3l3.9 3.9l-3.9 3.9l-3.9-3.9zM254 727l3.9 3.9l-3.9 3.9l-3.9-3.9zM64.7 756.6l3.9 3.9l-3.9 3.9l-3.9-3.9zM112.9 756.6l3.9 3.9l-3.9 3.9l-3.9-3.9zM161 756.6l3.9 3.9l-3.9 3.9l-3.9-3.9zM209.1 756.6l3.9 3.9l-3.9 3.9l-3.9-3.9zM257.3 756.6l3.9 3.9l-3.9 3.9l-3.9-3.9zM68 786.4l3.9 3.9l-3.9 3.9l-3.9-3.9zM114.7 781.9l3.9 3.9l-3.9 3.9l-3.9-3.9zM161 780.2l3.9 3.9l-3.9 3.9l-3.9-3.9zM207.3 781.9l3.9 3.9l-3.9 3.9l-3.9-3.9zM254 786.4l3.9 3.9l-3.9 3.9l-3.9-3.9zM82.3 814.7l3.9 3.9l-3.9 3.9l-3.9-3.9zM119.7 805.3l3.9 3.9l-3.9 3.9l-3.9-3.9zM161 803l3.9 3.9l-3.9 3.9l-3.9-3.9zM202.3 805.3l3.9 3.9l-3.9 3.9l-3.9-3.9zM239.7 814.7l3.9 3.9l-3.9 3.9l-3.9-3.9zM132.5 846.3l3.9 3.9l-3.9 3.9l-3.9-3.9zM161 849.5l3.9 3.9l-3.9 3.9l-3.9-3.9zM189.5 846.3l3.9 3.9l-3.9 3.9l-3.9-3.9z"/>
<path d="M573.5 651.5L579 643.5L589.3 634.5L593.7 634.5L604 643.5L609.5 651.5" fill="#fff" stroke="#000" stroke-width="2.9" stroke-linejoin="round"/>
<path d="M485.3 732L477 731Q472.7 731 472.7 736L472.7 773.5Q470.7 775.5 470.7 778.5L470.7 787.5Q470.7 793 477.5 793L486.3 792.5" fill="#fff" stroke="#000" stroke-width="2.9" stroke-linejoin="round"/>
<path d="M697.7 732L706 731Q710.3 731 710.3 736L710.3 773.5Q712.3 775.5 712.3 778.5L712.3 787.5Q712.3 793 705.5 793L696.7 792.5" fill="#fff" stroke="#000" stroke-width="2.9" stroke-linejoin="round"/>
<clipPath id="hc5"><circle cx="591.5" cy="760.5" r="110"/></clipPath>
<g clip-path="url(#hc5)">
<circle cx="591.5" cy="760.5" r="112" fill="#000080"/>
<path fill="#0000a8" d="M480.0 647.5L703.5 647.5L703.5 872.5L702.0 872.5L478.5 872.5L478.5 647.5Z"/>
<path fill="#0000c8" d="M480.0 647.5L703.5 647.5L703.5 872.5L702.0 872.5L478.5 872.5L478.5 647.5Z"/>
<path fill="#0000f8" d="M480.0 647.5L703.5 647.5L703.5 872.5L702.0 872.5L478.5 872.5L478.5 647.5Z"/>
<path fill="#0840d0" d="M480.0 647.5L703.5 647.5L703.5 872.5L702.0 872.5L478.5 872.5L478.5 647.5ZM544.4 778.0L539.2 779.5L534.0 782.4L530.6 785.5L527.6 790.0L525.9 794.5L525.3 799.0L525.7 805.0L527.3 811.0L529.6 817.0L532.5 822.3L535.5 826.0L540.0 829.7L544.5 832.1L550.5 833.7L556.5 834.0L562.5 832.9L567.0 831.2L571.5 828.3L574.5 825.3L577.0 821.5L579.0 816.7L580.3 811.0L580.6 806.5L579.8 802.0L577.8 797.5L573.8 791.5L570.0 786.9L565.0 782.5L559.5 779.5L555.0 778.2L549.0 777.6Z"/>
<path fill="#0878d0" d="M480.0 647.5L703.5 647.5L703.5 872.5L702.0 872.5L478.5 872.5L478.5 647.5ZM542.6 775.0L537.0 776.6L531.0 779.7L526.2 784.0L523.0 788.5L520.9 794.5L520.4 800.5L521.1 806.5L523.3 814.0L526.2 821.5L529.5 827.4L534.0 832.9L538.5 836.7L544.5 839.9L550.5 841.7L558.0 842.3L565.5 841.5L571.5 839.6L576.9 836.5L581.4 832.0L584.2 827.5L586.0 823.0L586.9 817.0L586.2 806.5L584.9 800.5L582.1 794.5L576.9 787.0L571.5 781.2L567.0 777.9L562.5 775.7L556.5 774.3L550.5 774.0ZM628.3 782.5L623.7 785.5L620.1 790.0L618.0 796.0L618.0 800.5L619.6 805.0L622.8 808.0L627.0 809.6L630.0 809.7L633.0 809.1L637.5 806.4L642.0 801.3L644.3 796.0L644.5 790.0L642.6 785.5L639.0 782.4L634.5 781.3Z"/>
<path fill="#00a4cc" d="M480.0 647.5L703.5 647.5L703.5 872.5L702.0 872.5L478.5 872.5L478.5 647.5ZM557.8 763.0L546.0 766.2L534.0 768.6L526.5 771.4L522.0 774.2L517.5 778.0L513.7 782.5L511.1 787.0L509.5 791.5L508.7 796.0L509.2 805.0L516.2 827.5L520.9 838.0L523.9 842.5L528.0 847.4L532.5 851.4L537.0 854.5L543.0 857.5L549.0 859.6L561.0 861.2L568.5 860.9L574.5 860.0L580.5 858.3L585.7 856.0L592.5 851.2L602.7 839.5L607.5 834.9L613.5 831.2L631.5 825.2L637.5 822.4L643.3 818.5L648.0 814.0L654.0 805.4L656.9 797.5L657.4 793.0L657.0 788.5L654.0 781.0L649.5 775.7L643.5 771.7L636.0 769.3L628.5 768.7L622.5 769.3L615.0 771.4L607.7 775.0L598.5 780.9L595.5 781.8L594.0 781.7L591.0 779.8L583.5 771.7L576.0 766.6L567.0 763.2L562.5 762.7Z"/>
<path fill="#00c4c8" d="M480.0 647.5L703.5 647.5L703.5 872.5L580.2 872.5L588.0 869.3L595.5 864.5L601.5 859.1L612.0 847.5L616.5 843.8L622.5 840.2L639.0 832.2L648.0 825.6L654.6 818.5L660.7 809.5L664.2 802.0L665.8 794.5L665.1 787.0L663.6 782.5L661.3 778.0L655.5 770.7L648.0 765.1L640.5 762.0L631.5 759.7L622.5 758.9L601.5 758.9L594.0 757.3L583.7 754.0L576.0 749.9L570.3 745.0L567.2 740.5L561.7 730.0L557.8 725.5L555.0 723.6L550.5 722.0L546.0 721.9L543.0 722.8L540.0 724.9L538.3 727.0L536.9 730.0L536.1 734.5L536.9 742.0L540.8 752.5L540.1 755.5L537.8 757.0L528.0 760.7L522.0 763.9L516.0 768.0L509.9 773.5L505.0 779.5L501.6 785.5L499.5 791.5L498.8 799.0L500.1 809.5L506.2 830.5L510.0 840.5L514.2 848.5L520.5 856.9L527.6 863.5L535.5 868.7L544.5 872.5L478.5 872.5L478.5 647.5Z"/>
<path fill="#00fcfc" d="M480.0 647.5L703.5 647.5L703.5 872.5L601.5 872.5L607.5 866.9L621.0 852.5L645.0 837.8L652.5 831.4L658.5 824.4L668.0 809.5L671.8 800.5L672.7 796.0L672.8 791.5L672.1 787.0L670.0 781.0L665.9 773.5L660.0 766.2L654.0 760.8L648.0 757.1L639.0 753.3L627.0 750.1L618.0 748.6L598.5 746.8L591.0 744.9L586.5 742.4L583.0 739.0L573.7 722.5L570.0 718.3L565.6 715.0L558.0 711.4L550.5 709.6L543.0 709.4L537.0 711.0L532.5 714.1L529.1 719.5L527.2 727.0L525.1 743.5L523.0 749.5L518.3 755.5L505.2 767.5L498.8 775.0L495.9 779.5L493.0 785.5L491.6 790.0L490.5 796.0L490.5 805.0L491.7 814.0L495.5 829.0L500.0 842.5L504.1 851.5L508.7 859.0L514.5 866.3L521.0 872.5L478.5 872.5L478.5 647.5Z"/>
<path fill="#00f0f0" d="M480.0 647.5L703.5 647.5L703.5 872.5L623.2 872.5L632.6 863.5L654.0 845.9L660.0 839.7L664.5 834.0L678.3 811.0L681.3 803.5L682.7 796.0L682.5 790.0L680.2 782.5L675.7 773.5L669.0 763.3L661.5 753.9L654.0 746.8L648.0 742.7L637.5 737.5L632.8 734.5L607.4 713.5L601.2 709.0L595.6 706.0L589.5 703.7L567.0 698.2L547.5 694.7L535.5 694.4L529.5 695.3L525.0 696.8L521.8 698.5L518.3 701.5L516.3 704.5L515.5 707.5L515.3 730.0L514.4 736.0L512.4 742.0L507.7 749.5L494.4 763.0L487.5 772.0L482.0 782.5L478.5 794.5L478.5 647.5ZM478.5 820.0L481.6 835.0L485.9 848.5L492.0 861.9L498.7 872.5L498.0 872.5L478.5 872.5Z"/>
<path fill="#40c0c8" d="M480.0 647.5L703.5 647.5L703.5 872.5L646.2 872.5L658.5 860.3L666.3 851.5L673.5 841.7L680.2 830.5L687.6 815.5L691.1 803.5L691.7 797.5L691.3 791.5L690.4 787.0L688.3 781.0L684.5 773.5L672.9 754.0L663.0 735.7L643.5 703.4L639.0 698.0L632.9 692.5L625.8 688.0L619.5 685.4L613.5 684.1L606.0 683.5L577.5 684.7L567.0 684.5L543.0 681.3L534.0 680.7L525.0 681.6L520.5 682.9L516.0 684.9L511.5 688.0L508.5 691.0L505.6 695.5L503.9 700.0L503.1 704.5L503.1 709.0L505.0 722.5L505.4 728.5L504.8 733.0L503.1 737.5L499.0 743.5L485.6 757.0L478.5 765.6L478.5 647.5ZM478.6 871.0L479.4 872.5L478.5 872.5Z"/>
<path fill="#40e080" d="M480.0 647.5L703.5 647.5L703.5 872.5L662.0 872.5L673.1 859.0L681.2 847.0L689.4 832.0L694.9 818.5L697.2 809.5L698.1 802.0L697.9 794.5L696.4 787.0L692.2 776.5L678.1 751.0L675.4 743.5L670.9 727.0L664.5 712.1L655.5 695.9L646.5 684.5L642.0 680.2L636.0 675.6L630.0 672.1L624.0 669.7L616.5 668.3L607.5 668.4L598.5 669.6L576.0 673.8L565.5 674.8L559.5 674.4L540.0 671.1L529.5 670.8L520.5 672.2L511.5 675.8L506.8 679.0L502.2 683.5L498.2 689.5L495.8 695.5L494.9 700.0L494.5 706.0L494.9 712.0L497.1 725.5L497.2 728.5L496.5 732.0L491.8 739.0L478.5 752.3L478.5 647.5Z"/>
<path fill="#80e080" d="M480.0 647.5L703.5 647.5L703.5 790.8L701.5 784.0L698.3 776.5L687.0 757.0L683.5 749.5L681.6 742.0L681.0 731.5L680.0 725.5L675.0 709.8L668.0 694.0L660.8 682.0L652.1 671.5L642.0 663.2L631.5 657.7L621.0 654.9L609.0 654.4L597.0 656.1L574.5 661.5L565.5 662.8L558.0 662.6L538.5 660.0L525.0 660.4L514.5 662.9L505.5 667.2L499.7 671.5L495.3 676.0L491.1 682.0L488.2 688.0L486.3 694.0L485.1 701.5L485.1 725.5L482.9 731.5L478.5 737.7L478.5 647.5ZM703.5 816.8L703.5 872.5L676.5 872.5L686.5 857.5L693.8 844.0L699.6 830.5Z"/>
<path fill="#98e040" d="M480.0 647.5L520.0 647.5L513.0 649.4L507.0 651.8L496.5 658.0L491.1 662.5L486.0 668.0L481.5 674.5L478.5 680.1L478.5 647.5ZM646.5 647.5L703.5 647.5L703.5 772.8L692.0 754.0L688.8 746.5L687.9 740.5L688.3 727.0L686.9 716.5L682.8 700.0L677.0 685.0L671.5 674.5L664.5 664.5L655.5 655.0L645.3 647.5ZM703.5 849.8L703.5 872.5L693.0 872.5L691.8 872.5L698.5 860.5Z"/>
<path fill="#c8e040" d="M480.0 647.5L483.7 647.5L480.5 650.5L478.5 652.6L478.5 647.5ZM672.0 647.5L703.5 647.5L703.5 758.1L702.7 757.0L697.5 748.7L695.5 743.5L695.4 739.0L696.8 724.0L696.8 715.0L695.2 701.5L692.3 688.0L688.5 676.5L684.0 666.2L678.5 656.5Z"/>
<path fill="#e8e800" d="M687.0 647.5L703.5 647.5L703.5 698.4L701.4 685.0L697.8 671.5L693.0 659.0ZM703.5 727.7L703.5 744.3L702.6 739.0Z"/>
<path fill="#ffff00" d="M699.0 647.5L703.5 647.5L703.5 658.9Z"/>
<path fill="none" stroke="#3a343a" stroke-width="1.6" d="M541.5 779.3L537.0 781.3L533.2 784.0L530.4 787.0L527.8 791.5L526.5 796.0L526.2 800.5L526.9 806.5L528.7 812.5L531.0 817.8L534.0 822.7L537.0 826.0L541.5 829.2L546.0 831.2L550.5 832.3L556.5 832.4L561.0 831.6L565.5 830.0L569.7 827.5L572.9 824.5L575.1 821.5L577.5 816.7L579.1 811.0L579.6 806.5L578.8 802.0L576.0 796.4L571.5 790.1L567.3 785.5L563.4 782.5L558.0 779.8L553.5 778.6L547.5 778.3L543.0 778.9M558.0 764.3L532.5 769.9L526.5 772.5L522.0 775.4L516.2 781.0L512.4 787.0L510.0 794.5L509.9 802.0L511.9 811.0L519.0 831.5L523.5 839.7L529.5 846.9L534.0 850.7L538.5 853.6L547.5 857.4L558.0 859.3L568.5 859.2L579.0 856.9L588.0 852.7L592.5 848.8L604.5 835.1L610.5 830.7L616.5 828.1L633.0 823.3L642.0 818.2L648.0 812.5L653.1 805.0L655.8 797.5L656.3 791.5L654.4 784.0L651.0 778.6L645.0 773.6L639.0 771.1L630.0 769.8L624.0 770.3L619.5 771.4L611.4 775.0L598.5 784.4L594.0 785.1L591.0 783.6L583.5 774.4L576.9 769.0L568.5 765.2L564.0 764.3L559.5 764.2M597.5 872.5L604.5 866.5L619.5 850.4L643.5 836.4L649.5 831.7L655.5 825.5L663.6 814.0L669.1 803.5L670.5 799.0L671.1 794.5L671.0 790.0L670.0 785.5L666.8 778.0L661.8 770.5L655.5 764.1L649.5 759.9L640.5 755.9L630.0 753.0L619.5 751.4L600.0 749.9L594.0 748.7L588.0 746.6L583.5 743.7L580.2 740.5L577.1 736.0L571.5 725.5L568.5 721.6L565.5 718.8L561.0 715.8L556.5 713.8L550.5 712.4L546.0 712.1L541.5 712.7L538.5 713.7L535.5 715.6L532.5 719.1L530.8 722.5L529.5 727.0L527.5 745.0L525.4 751.0L521.7 755.5L507.9 767.5L501.1 775.0L495.7 784.0L494.0 788.5L492.7 794.5L492.5 803.5L493.7 812.5L498.0 829.0L502.7 842.5L507.0 851.5L511.9 859.0L518.5 866.5L525.5 872.5M478.5 836.3L481.7 847.0L485.2 856.0L489.7 865.0L494.3 872.5M628.2 872.5L655.5 848.4L661.5 841.9L666.8 835.0L676.8 818.5L681.4 809.5L684.2 800.5L684.7 791.5L682.8 784.0L678.6 775.0L672.0 764.4L663.0 752.2L658.5 747.1L652.5 741.7L637.4 731.5L633.4 727.0L625.5 716.1L621.0 712.0L615.0 708.0L604.7 703.0L595.1 700.0L549.0 692.0L540.0 691.2L532.5 691.4L526.5 692.6L520.5 695.1L517.5 697.3L514.9 700.0L512.6 704.5L512.2 709.0L513.2 724.0L513.0 730.0L512.0 736.0L510.0 741.6L504.6 749.5L493.5 760.5L487.7 767.5L482.0 776.5L478.5 784.4M659.7 872.5L669.0 861.6L676.5 851.5L683.1 841.0L689.3 829.0L693.6 818.5L696.1 809.5L697.1 800.5L696.7 793.0L695.5 787.0L693.3 781.0L689.7 773.5L677.1 751.0L669.0 726.7L660.0 707.5L654.0 697.3L648.1 689.5L642.0 683.1L634.5 677.3L629.5 674.5L624.0 672.2L619.5 671.0L613.5 670.5L601.5 671.3L579.0 675.1L568.5 676.3L561.0 676.1L543.0 673.1L532.5 672.3L523.5 673.2L514.5 676.1L508.5 679.7L504.0 683.8L499.9 689.5L497.3 695.5L496.3 700.0L495.9 706.0L498.7 727.0L498.6 730.0L497.7 733.0L493.5 739.2L478.5 754.4M586.9 647.5L573.0 650.6L564.0 651.8L556.5 651.9L538.5 650.9L528.0 651.2L519.0 652.7L510.0 655.6L499.5 661.4L494.4 665.5L490.1 670.0L486.6 674.5L483.1 680.5L480.6 686.5L478.5 693.5M703.5 777.7L690.5 755.5L687.1 748.0L685.7 740.5L685.7 727.0L683.8 716.5L678.3 698.5L671.5 683.5L663.0 670.2L654.0 660.4L643.5 652.6L632.7 647.5M686.5 872.5L696.1 856.0L703.5 839.4"/>
</g>
<circle cx="591.5" cy="760.5" r="110" fill="none" stroke="#000" stroke-width="2.8"/>
<path fill="#000" d="M563 667.2l3.9 3.9l-3.9 3.9l-3.9-3.9zM620 667.2l3.9 3.9l-3.9 3.9l-3.9-3.9zM512.8 699.9l3.9 3.9l-3.9 3.9l-3.9-3.9zM550.7 708.5l3.9 3.9l-3.9 3.9l-3.9-3.9zM591.5 710.5l3.9 3.9l-3.9 3.9l-3.9-3.9zM632.3 708.5l3.9 3.9l-3.9 3.9l-3.9-3.9zM670.2 699.9l3.9 3.9l-3.9 3.9l-3.9-3.9zM498.5 727l3.9 3.9l-3.9 3.9l-3.9-3.9zM545.4 731.3l3.9 3.9l-3.9 3.9l-3.9-3.9zM591.5 733.6l3.9 3.9l-3.9 3.9l-3.9-3.9zM637.6 731.3l3.9 3.9l-3.9 3.9l-3.9-3.9zM684.5 727l3.9 3.9l-3.9 3.9l-3.9-3.9zM495.2 756.6l3.9 3.9l-3.9 3.9l-3.9-3.9zM543.4 756.6l3.9 3.9l-3.9 3.9l-3.9-3.9zM591.5 756.6l3.9 3.9l-3.9 3.9l-3.9-3.9zM639.6 756.6l3.9 3.9l-3.9 3.9l-3.9-3.9zM687.8 756.6l3.9 3.9l-3.9 3.9l-3.9-3.9zM498.5 786.4l3.9 3.9l-3.9 3.9l-3.9-3.9zM545.2 781.9l3.9 3.9l-3.9 3.9l-3.9-3.9zM591.5 780.2l3.9 3.9l-3.9 3.9l-3.9-3.9zM637.8 781.9l3.9 3.9l-3.9 3.9l-3.9-3.9zM684.5 786.4l3.9 3.9l-3.9 3.9l-3.9-3.9zM512.8 814.7l3.9 3.9l-3.9 3.9l-3.9-3.9zM550.2 805.3l3.9 3.9l-3.9 3.9l-3.9-3.9zM591.5 803l3.9 3.9l-3.9 3.9l-3.9-3.9zM632.8 805.3l3.9 3.9l-3.9 3.9l-3.9-3.9zM670.2 814.7l3.9 3.9l-3.9 3.9l-3.9-3.9zM563 846.3l3.9 3.9l-3.9 3.9l-3.9-3.9zM591.5 849.5l3.9 3.9l-3.9 3.9l-3.9-3.9zM620 846.3l3.9 3.9l-3.9 3.9l-3.9-3.9z"/>
<path d="M923 651.5L928.5 643.5L938.8 634.5L943.2 634.5L953.5 643.5L959 651.5" fill="#fff" stroke="#000" stroke-width="2.9" stroke-linejoin="round"/>
<path d="M834.8 732L826.5 731Q822.2 731 822.2 736L822.2 773.5Q820.2 775.5 820.2 778.5L820.2 787.5Q820.2 793 827 793L835.8 792.5" fill="#fff" stroke="#000" stroke-width="2.9" stroke-linejoin="round"/>
<path d="M1047.2 732L1055.5 731Q1059.8 731 1059.8 736L1059.8 773.5Q1061.8 775.5 1061.8 778.5L1061.8 787.5Q1061.8 793 1055 793L1046.2 792.5" fill="#fff" stroke="#000" stroke-width="2.9" stroke-linejoin="round"/>
<clipPath id="hc6"><circle cx="941" cy="760.5" r="110"/></clipPath>
<g clip-path="url(#hc6)">
<circle cx="941" cy="760.5" r="112" fill="#000080"/>
<path fill="#0000a8" d="M829.5 647.5L1053.0 647.5L1053.0 872.5L1051.5 872.5L828.0 872.5L828.0 647.5Z"/>
<path fill="#0000c8" d="M829.5 647.5L1053.0 647.5L1053.0 872.5L1051.5 872.5L828.0 872.5L828.0 647.5Z"/>
<path fill="#0000f8" d="M829.5 647.5L1053.0 647.5L1053.0 872.5L1051.5 872.5L828.0 872.5L828.0 647.5Z"/>
<path fill="#0840d0" d="M829.5 647.5L1053.0 647.5L1053.0 872.5L1051.5 872.5L828.0 872.5L828.0 647.5Z"/>
<path fill="#0878d0" d="M829.5 647.5L1053.0 647.5L1053.0 872.5L1051.5 872.5L828.0 872.5L828.0 647.5Z"/>
<path fill="#00a4cc" d="M829.5 647.5L1053.0 647.5L1053.0 872.5L1051.5 872.5L828.0 872.5L828.0 647.5Z"/>
<path fill="#00c4c8" d="M829.5 647.5L1053.0 647.5L1053.0 872.5L1051.5 872.5L828.0 872.5L828.0 647.5Z"/>
<path fill="#00fcfc" d="M829.5 647.5L1053.0 647.5L1053.0 872.5L1051.5 872.5L828.0 872.5L828.0 647.5Z"/>
<path fill="#00f0f0" d="M829.5 647.5L1053.0 647.5L1053.0 872.5L1002.0 872.5L912.4 872.5L916.1 854.5L916.3 850.0L915.6 844.0L909.7 821.5L906.3 800.5L904.8 794.5L902.7 790.0L900.4 787.0L897.0 784.4L894.0 783.4L886.5 783.5L877.3 785.5L864.0 790.0L854.5 794.5L851.0 797.5L848.8 800.5L843.7 812.5L840.9 817.0L836.9 821.5L828.0 829.8L828.0 647.5Z"/>
<path fill="#40c0c8" d="M829.5 647.5L959.2 647.5L962.3 656.5L964.5 660.2L967.5 663.6L973.5 667.3L981.0 668.7L990.0 667.4L999.0 663.9L1009.5 657.7L1022.5 647.5L1053.0 647.5L1053.0 863.5L1053.0 872.5L927.7 872.5L926.7 862.0L925.6 835.0L919.9 802.0L918.2 794.5L916.1 788.5L913.6 784.0L910.5 780.4L904.5 776.5L897.0 774.3L879.0 772.6L865.5 772.4L855.0 773.5L846.0 775.5L837.0 779.0L828.0 784.1L828.0 647.5Z"/>
<path fill="#40e080" d="M829.5 647.5L948.2 647.5L951.0 656.5L953.6 662.5L956.4 667.0L960.0 671.1L964.5 674.4L970.5 677.2L976.5 678.6L982.5 679.0L988.5 678.6L994.5 677.4L1006.5 673.2L1023.2 664.0L1047.6 647.5L1053.0 647.5L1053.0 851.5L1053.0 872.5L941.3 872.5L937.1 865.0L934.5 856.4L934.2 850.0L935.2 836.5L934.9 829.0L927.6 791.5L924.3 781.0L921.6 776.5L918.9 773.5L914.8 770.5L909.0 768.2L904.5 767.3L891.0 766.5L876.0 762.4L868.5 761.4L859.5 761.8L847.5 763.8L838.5 766.2L828.0 770.0L828.0 647.5ZM898.1 709.0L893.6 710.5L889.5 714.1L886.5 719.5L885.3 725.5L885.9 731.5L888.2 736.0L892.5 738.8L897.0 739.1L901.5 737.2L905.2 733.0L907.8 727.0L908.8 721.0L908.3 716.5L905.9 712.0L903.0 709.8L900.0 709.0ZM987.5 773.5L985.2 775.0L982.5 777.8L980.1 782.5L979.2 788.5L980.1 794.5L982.5 801.9L987.0 809.9L991.5 813.4L994.5 813.5L996.5 812.5L1000.5 808.1L1004.6 799.0L1006.3 790.0L1005.7 782.5L1003.5 777.8L1000.7 775.0L998.2 773.5L993.0 772.2L990.0 772.5Z"/>
<path fill="#80e080" d="M829.5 647.5L937.8 647.5L944.5 668.5L947.4 674.5L951.0 679.5L955.5 683.4L961.5 686.4L969.0 688.4L976.5 689.3L985.5 689.3L993.0 688.6L1000.5 687.0L1008.0 684.7L1023.0 678.0L1053.0 662.1L1053.0 872.5L1043.5 872.5L1041.8 850.0L1038.2 827.5L1033.5 805.0L1032.0 794.5L1032.4 788.5L1035.7 778.0L1036.5 773.5L1036.2 769.0L1035.0 766.0L1033.8 764.5L1028.4 761.5L1009.5 755.7L1000.5 753.9L991.5 753.5L987.0 754.1L981.0 755.9L958.5 767.2L954.0 768.8L951.0 769.0L948.0 767.8L940.5 762.2L928.5 757.9L924.5 755.5L921.2 752.5L919.3 749.5L918.5 746.5L918.6 739.0L921.8 719.5L921.9 715.0L921.2 710.5L919.5 706.9L916.5 703.4L913.5 701.3L909.0 699.4L903.0 698.0L895.5 698.1L889.5 699.7L883.6 703.0L879.0 707.5L875.4 713.5L872.8 721.0L869.7 737.5L867.8 742.0L865.5 744.8L860.9 748.0L855.0 750.5L828.0 758.0L828.0 647.5ZM946.5 785.0L948.0 786.3L948.0 790.4L946.5 789.0L946.1 787.0Z"/>
<path fill="#98e040" d="M829.5 647.5L925.1 647.5L928.8 659.5L930.3 670.0L929.5 677.5L928.2 680.5L925.6 683.5L922.5 685.3L916.5 686.5L898.5 686.4L891.0 687.0L885.0 688.3L878.7 691.0L874.5 693.7L870.7 697.0L865.0 704.5L861.7 712.0L856.7 728.5L853.0 734.5L849.5 737.5L844.5 740.0L838.2 742.0L828.0 744.2L828.0 647.5ZM1051.5 681.5L1053.0 681.0L1053.0 754.6L1047.0 750.8L1039.5 747.7L1012.5 739.7L1002.0 737.8L994.5 737.9L982.5 739.6L975.0 741.3L960.0 745.8L952.5 747.0L945.0 746.7L939.0 744.7L936.0 742.3L934.7 740.5L933.4 736.0L933.9 730.0L937.1 722.5L943.5 713.6L948.0 709.4L952.5 707.1L960.0 705.3L994.5 703.1L1005.0 701.2L1015.5 697.5L1038.0 687.0Z"/>
<path fill="#c8e040" d="M829.5 647.5L902.4 647.5L905.3 655.0L906.3 659.5L906.1 662.5L904.5 664.9L900.0 666.5L888.0 667.9L879.0 670.0L871.5 673.0L863.9 677.5L856.8 683.5L850.5 691.0L846.7 697.0L839.5 710.5L836.4 715.0L832.5 718.5L828.0 720.9L828.0 647.5ZM1053.0 709.0L1053.0 728.5L1045.5 727.8L1042.4 727.0L1039.4 725.5L1037.7 724.0L1036.5 721.0L1036.9 718.0L1038.8 715.0L1042.5 712.2L1045.5 710.7Z"/>
<path fill="#e8e800" d="M829.5 647.5L857.1 647.5L851.9 655.0L841.3 667.0L828.0 682.4L828.0 647.5Z"/>
<path fill="none" stroke="#3a343a" stroke-width="1.6" d="M909.0 872.5L913.6 856.0L914.2 851.5L913.9 847.0L906.6 821.5L902.4 796.0L900.5 791.5L898.5 788.6L896.8 787.0L894.0 785.6L888.0 785.7L879.0 788.1L871.3 791.5L864.3 796.0L861.5 799.0L859.4 803.5L859.1 808.0L860.5 817.0L859.2 820.0L855.0 823.7L838.5 834.2L828.0 842.5M966.5 647.5L968.4 653.5L971.1 658.0L975.0 661.1L979.5 662.0L985.5 661.3L993.0 658.5L1001.3 653.5L1008.7 647.5M921.7 872.5L922.4 850.0L920.8 835.0L913.3 796.0L910.4 788.5L905.6 782.5L903.0 780.6L898.5 778.6L891.0 777.3L876.0 777.5L858.3 779.5L850.5 781.2L843.0 784.1L836.0 788.5L828.0 795.4M953.7 647.5L955.5 653.6L958.0 659.5L960.9 664.0L963.7 667.0L967.5 669.9L972.0 672.0L976.5 673.3L982.5 673.8L993.0 672.2L1005.0 667.4L1018.1 659.5L1034.2 647.5M933.4 872.5L931.4 865.0L930.3 857.5L930.1 838.0L929.4 829.0L923.8 799.0L922.1 791.5L920.0 785.5L917.4 781.0L914.9 778.0L909.0 773.9L903.0 771.8L876.0 768.0L867.0 767.3L858.0 767.7L847.5 769.5L838.5 772.2L828.0 776.8M942.9 647.5L948.4 664.0L951.6 670.0L955.5 674.9L960.0 678.6L966.0 681.6L972.0 683.3L979.5 684.2L985.5 684.2L993.0 683.3L1000.5 681.5L1008.0 678.8L1023.0 671.4L1053.0 653.6M1018.8 872.5L1020.3 860.5L1020.9 850.0L1020.0 805.0L1021.2 779.5L1020.5 775.0L1019.1 772.0L1016.4 769.0L1012.0 766.0L1005.4 763.0L999.0 761.2L993.0 760.3L988.5 760.7L982.6 763.0L977.8 766.0L972.8 770.5L969.4 775.0L967.5 779.5L966.5 785.5L968.0 812.5L966.9 824.5L962.2 842.5L960.6 856.0L959.6 860.5L957.0 864.3L955.5 865.3L952.5 865.9L948.0 864.9L945.0 863.0L941.4 859.0L939.4 854.5L939.4 850.0L942.8 835.0L943.0 830.5L942.5 826.0L936.8 808.0L931.0 776.5L929.0 772.0L924.8 767.5L918.0 763.2L910.5 760.5L904.5 760.3L895.5 762.1L891.0 761.7L887.6 760.0L880.5 754.5L876.0 753.1L868.5 753.7L850.5 757.5L828.0 763.7M897.0 703.0L892.5 704.1L888.7 706.0L885.1 709.0L882.7 712.0L880.3 716.5L878.8 721.0L877.7 731.5L879.0 740.3L880.5 743.8L882.0 745.8L883.5 746.8L886.5 747.7L898.5 748.2L903.0 747.3L906.0 745.7L910.2 740.5L912.3 736.0L914.2 730.0L915.8 719.5L915.3 715.0L914.4 712.0L911.3 707.5L906.0 704.1L903.0 703.2L898.5 702.9M931.9 647.5L940.1 679.0L942.3 685.0L945.0 688.8L948.0 691.0L951.3 692.5L957.0 694.0L967.5 695.5L981.0 695.9L993.0 695.1L1002.0 693.5L1017.0 688.3L1053.0 671.3M1053.0 803.0L1051.8 793.0L1051.9 776.5L1050.4 769.0L1048.4 764.5L1045.1 760.0L1041.6 757.0L1038.0 755.0L1032.0 753.0L1012.5 748.2L999.0 746.2L991.5 746.4L984.0 747.5L963.0 754.3L955.5 755.6L949.5 755.2L940.5 753.1L934.9 751.0L931.5 748.9L929.1 746.5L927.4 743.5L926.1 737.5L926.7 730.0L930.7 712.0L930.9 707.5L930.4 704.5L929.1 701.5L926.2 698.5L921.0 696.0L915.0 694.2L904.5 692.5L895.5 692.5L888.0 694.1L880.5 697.7L874.5 703.0L870.5 709.0L867.5 716.5L862.8 733.0L860.4 737.5L858.0 740.3L853.5 743.6L847.5 746.3L828.0 751.4M919.2 647.5L922.8 658.0L924.1 665.5L924.0 670.0L923.2 673.0L920.4 677.5L916.5 680.0L912.0 681.1L894.0 681.5L885.0 682.7L879.0 684.7L872.6 688.0L865.5 694.0L860.0 701.5L856.5 709.0L851.2 725.5L848.8 730.0L846.0 732.4L841.5 734.6L828.0 737.9M1053.0 746.4L1030.0 739.0L1008.0 729.4L1000.5 727.5L993.0 727.9L976.5 731.2L967.5 733.7L955.5 738.2L949.5 739.5L946.5 739.6L943.2 739.0L941.1 737.5L940.4 734.5L941.9 730.0L945.0 726.0L951.0 721.1L957.0 718.0L966.9 715.0L979.5 712.6L994.5 713.3L1002.0 712.2L1011.0 708.5L1035.5 695.5L1053.0 688.8"/>
</g>
<circle cx="941" cy="760.5" r="110" fill="none" stroke="#000" stroke-width="2.8"/>
<path fill="#000" d="M912.5 667.2l3.9 3.9l-3.9 3.9l-3.9-3.9zM969.5 667.2l3.9 3.9l-3.9 3.9l-3.9-3.9zM862.3 699.9l3.9 3.9l-3.9 3.9l-3.9-3.9zM900.2 708.5l3.9 3.9l-3.9 3.9l-3.9-3.9zM941 710.5l3.9 3.9l-3.9 3.9l-3.9-3.9zM981.8 708.5l3.9 3.9l-3.9 3.9l-3.9-3.9zM1019.7 699.9l3.9 3.9l-3.9 3.9l-3.9-3.9zM848 727l3.9 3.9l-3.9 3.9l-3.9-3.9zM894.9 731.3l3.9 3.9l-3.9 3.9l-3.9-3.9zM941 733.6l3.9 3.9l-3.9 3.9l-3.9-3.9zM987.1 731.3l3.9 3.9l-3.9 3.9l-3.9-3.9zM1034 727l3.9 3.9l-3.9 3.9l-3.9-3.9zM844.7 756.6l3.9 3.9l-3.9 3.9l-3.9-3.9zM892.9 756.6l3.9 3.9l-3.9 3.9l-3.9-3.9zM941 756.6l3.9 3.9l-3.9 3.9l-3.9-3.9zM989.1 756.6l3.9 3.9l-3.9 3.9l-3.9-3.9zM1037.3 756.6l3.9 3.9l-3.9 3.9l-3.9-3.9zM848 786.4l3.9 3.9l-3.9 3.9l-3.9-3.9zM894.7 781.9l3.9 3.9l-3.9 3.9l-3.9-3.9zM941 780.2l3.9 3.9l-3.9 3.9l-3.9-3.9zM987.3 781.9l3.9 3.9l-3.9 3.9l-3.9-3.9zM1034 786.4l3.9 3.9l-3.9 3.9l-3.9-3.9zM862.3 814.7l3.9 3.9l-3.9 3.9l-3.9-3.9zM899.7 805.3l3.9 3.9l-3.9 3.9l-3.9-3.9zM941 803l3.9 3.9l-3.9 3.9l-3.9-3.9zM982.3 805.3l3.9 3.9l-3.9 3.9l-3.9-3.9zM1019.7 814.7l3.9 3.9l-3.9 3.9l-3.9-3.9zM912.5 846.3l3.9 3.9l-3.9 3.9l-3.9-3.9zM941 849.5l3.9 3.9l-3.9 3.9l-3.9-3.9zM969.5 846.3l3.9 3.9l-3.9 3.9l-3.9-3.9z"/>
<path d="M1353 651.5L1358.5 643.5L1368.8 634.5L1373.2 634.5L1383.5 643.5L1389 651.5" fill="#fff" stroke="#000" stroke-width="2.9" stroke-linejoin="round"/>
<path d="M1264.8 732L1256.5 731Q1252.2 731 1252.2 736L1252.2 773.5Q1250.2 775.5 1250.2 778.5L1250.2 787.5Q1250.2 793 1257 793L1265.8 792.5" fill="#fff" stroke="#000" stroke-width="2.9" stroke-linejoin="round"/>
<path d="M1477.2 732L1485.5 731Q1489.8 731 1489.8 736L1489.8 773.5Q1491.8 775.5 1491.8 778.5L1491.8 787.5Q1491.8 793 1485 793L1476.2 792.5" fill="#fff" stroke="#000" stroke-width="2.9" stroke-linejoin="round"/>
<clipPath id="hc7"><circle cx="1371" cy="760.5" r="110"/></clipPath>
<g clip-path="url(#hc7)">
<circle cx="1371" cy="760.5" r="112" fill="#000080"/>
<path fill="#0000a8" d="M1259.5 647.5L1483.0 647.5L1483.0 872.5L1481.5 872.5L1258.0 872.5L1258.0 647.5Z"/>
<path fill="#0000c8" d="M1259.5 647.5L1483.0 647.5L1483.0 872.5L1481.5 872.5L1258.0 872.5L1258.0 647.5Z"/>
<path fill="#0000f8" d="M1259.5 647.5L1483.0 647.5L1483.0 872.5L1481.5 872.5L1258.0 872.5L1258.0 647.5Z"/>
<path fill="#0840d0" d="M1259.5 647.5L1483.0 647.5L1483.0 872.5L1481.5 872.5L1258.0 872.5L1258.0 647.5Z"/>
<path fill="#0878d0" d="M1259.5 647.5L1483.0 647.5L1483.0 872.5L1481.5 872.5L1258.0 872.5L1258.0 647.5Z"/>
<path fill="#00a4cc" d="M1259.5 647.5L1483.0 647.5L1483.0 872.5L1481.5 872.5L1258.0 872.5L1258.0 647.5Z"/>
<path fill="#00c4c8" d="M1259.5 647.5L1483.0 647.5L1483.0 872.5L1481.5 872.5L1258.0 872.5L1258.0 647.5Z"/>
<path fill="#00fcfc" d="M1259.5 647.5L1483.0 647.5L1483.0 872.5L1481.5 872.5L1258.0 872.5L1258.0 647.5Z"/>
<path fill="#00f0f0" d="M1259.5 647.5L1483.0 647.5L1483.0 872.5L1481.5 872.5L1258.0 872.5L1258.0 647.5Z"/>
<path fill="#40c0c8" d="M1259.5 647.5L1483.0 647.5L1483.0 872.5L1481.5 872.5L1258.0 872.5L1258.0 647.5Z"/>
<path fill="#40e080" d="M1259.5 647.5L1483.0 647.5L1483.0 872.5L1481.5 872.5L1258.0 872.5L1258.0 647.5Z"/>
<path fill="#80e080" d="M1259.5 647.5L1483.0 647.5L1483.0 872.5L1453.0 872.5L1258.0 872.5L1258.0 803.9L1262.5 803.6L1268.5 802.4L1277.5 798.5L1280.8 796.0L1283.4 793.0L1284.8 790.0L1285.6 785.5L1285.2 781.0L1283.4 775.0L1280.4 769.0L1276.0 763.1L1273.0 761.0L1270.0 760.0L1264.0 759.2L1258.0 759.2L1258.0 647.5ZM1287.8 655.0L1283.4 656.5L1278.5 659.5L1275.5 662.5L1272.7 667.0L1271.3 671.5L1270.9 676.0L1271.6 680.5L1273.8 686.5L1277.6 692.5L1281.5 697.0L1286.4 701.5L1291.0 704.5L1295.5 705.9L1300.0 706.5L1306.0 706.5L1312.0 705.7L1316.5 704.2L1321.6 701.5L1325.0 698.5L1328.2 694.0L1329.3 691.0L1329.8 686.5L1329.1 682.0L1327.5 677.5L1324.0 671.5L1320.5 667.0L1315.7 662.5L1310.5 658.9L1304.5 656.1L1298.5 654.6L1292.5 654.3Z"/>
<path fill="#98e040" d="M1342.0 647.5L1483.0 647.5L1483.0 872.5L1313.5 872.5L1258.0 872.5L1258.0 826.8L1265.5 823.8L1271.5 820.4L1294.0 804.1L1297.5 800.5L1300.0 796.6L1301.3 793.0L1301.7 788.5L1300.8 782.5L1297.7 773.5L1292.5 762.4L1288.0 755.5L1285.0 752.2L1280.5 748.8L1264.6 740.5L1258.0 735.6L1258.0 715.7L1265.5 714.5L1273.0 715.0L1280.5 716.8L1297.0 722.8L1304.5 724.9L1313.5 726.4L1321.0 726.4L1328.5 724.0L1346.5 713.9L1361.5 707.1L1366.0 704.5L1368.6 701.5L1370.0 697.0L1369.7 692.5L1367.9 686.5L1361.3 674.5L1349.5 658.2L1340.8 647.5Z"/>
<path fill="#c8e040" d="M1373.5 647.5L1483.0 647.5L1483.0 872.5L1319.5 872.5L1258.0 872.5L1258.0 860.6L1267.0 858.3L1274.5 855.4L1281.9 851.5L1288.5 847.0L1310.5 827.6L1315.0 822.2L1318.9 815.5L1321.2 809.5L1322.5 803.5L1323.0 796.0L1322.7 790.0L1321.4 785.5L1312.8 772.0L1308.9 763.0L1308.0 758.5L1308.1 754.0L1309.0 751.0L1310.5 748.8L1315.0 745.9L1333.0 739.7L1351.0 729.8L1360.0 725.9L1372.0 723.5L1397.5 722.0L1402.0 720.2L1405.3 716.5L1406.2 713.5L1406.1 710.5L1401.5 698.5L1388.5 673.8L1372.0 647.5ZM1415.8 746.5L1411.5 749.5L1409.5 753.1L1408.7 758.5L1409.5 764.5L1411.9 770.5L1418.8 784.0L1423.0 799.1L1426.0 806.7L1430.5 813.4L1433.5 816.0L1436.5 817.2L1439.5 816.9L1441.0 815.5L1442.2 812.5L1442.6 809.5L1443.1 782.5L1442.3 769.0L1440.7 760.0L1438.8 755.5L1436.8 752.5L1431.4 748.0L1427.5 746.3L1423.0 745.5L1418.5 745.8Z"/>
<path fill="#e8e800" d="M1390.0 647.5L1483.0 647.5L1483.0 872.5L1315.4 872.5L1323.6 866.5L1329.6 860.5L1333.8 854.5L1335.9 848.5L1335.9 844.0L1334.2 827.5L1334.4 808.0L1333.7 796.0L1332.6 787.0L1330.8 781.0L1321.4 764.5L1320.8 760.0L1322.5 756.8L1326.2 754.0L1343.5 746.3L1364.5 735.0L1369.0 733.7L1372.0 733.5L1378.0 734.9L1384.0 738.9L1387.6 743.5L1404.8 781.0L1408.2 791.5L1411.0 811.0L1414.0 823.0L1418.4 835.0L1423.0 842.6L1427.5 847.3L1432.0 850.5L1438.0 852.9L1444.0 853.5L1450.0 852.4L1454.5 850.1L1459.0 845.7L1461.8 841.0L1463.9 833.5L1464.1 824.5L1462.3 815.5L1457.0 800.5L1455.2 793.0L1454.6 785.5L1454.8 758.5L1453.9 751.0L1452.6 746.5L1450.1 742.0L1447.2 739.0L1432.0 728.5L1429.0 725.7L1426.6 722.5L1417.0 701.2L1389.0 647.5Z"/>
<path fill="#ffff00" d="M1402.0 647.5L1483.0 647.5L1483.0 872.5L1469.8 872.5L1471.0 871.4L1476.2 865.0L1479.8 857.5L1481.8 848.5L1482.0 839.5L1480.8 830.5L1477.7 820.0L1474.5 812.5L1466.0 796.0L1464.0 790.0L1463.8 784.0L1466.1 751.0L1465.9 745.0L1465.0 740.5L1463.0 736.0L1460.6 733.0L1441.0 721.7L1436.5 717.8L1432.0 712.2L1427.6 704.5L1421.1 691.0L1401.5 647.5ZM1354.0 755.4L1360.0 754.1L1364.5 754.3L1381.0 761.8L1385.5 765.4L1390.0 770.5L1393.9 776.5L1396.8 782.5L1400.2 794.5L1404.0 827.5L1406.2 841.0L1408.0 848.0L1411.0 854.5L1415.5 861.2L1421.5 867.9L1427.2 872.5L1403.5 872.5L1339.2 872.5L1345.0 859.3L1346.5 853.7L1347.0 848.5L1343.7 821.5L1338.9 773.5L1339.0 767.5L1340.5 763.8L1343.5 760.7L1348.0 757.9Z"/>
<path fill="#e8b400" d="M1415.5 647.5L1483.0 647.5L1482.8 793.0L1481.0 788.5L1479.7 782.5L1479.4 775.0L1480.2 749.5L1479.2 742.0L1477.2 736.0L1473.6 730.0L1469.0 725.5L1464.2 722.5L1453.0 717.6L1447.0 714.3L1442.5 710.6L1438.6 706.0L1434.2 698.5L1429.7 688.0L1414.9 647.5ZM1363.0 770.4L1367.5 770.2L1373.5 771.3L1378.0 773.2L1380.7 775.0L1384.0 778.3L1386.8 782.5L1390.2 791.5L1391.5 800.9L1392.0 827.5L1393.8 848.5L1395.9 859.0L1399.8 872.5L1385.5 872.5L1354.9 872.5L1356.3 848.5L1356.2 836.5L1355.1 826.0L1350.9 800.5L1350.3 787.0L1351.7 779.5L1354.0 775.2L1357.8 772.0Z"/>
<path fill="#e08010" d="M1432.0 647.5L1483.0 647.5L1483.0 719.8L1473.2 713.5L1454.5 705.5L1450.9 703.0L1448.3 700.0L1444.3 692.5L1441.0 683.5L1431.5 647.5ZM1370.5 791.1L1370.9 793.0L1370.5 793.8L1370.1 793.0Z"/>
<path fill="#e86010" d="M1450.0 647.5L1483.0 647.5L1483.0 701.5L1466.5 693.5L1463.3 691.0L1459.7 686.5L1456.9 680.5L1454.5 672.6L1450.6 653.5L1449.5 647.5Z"/>
<path fill="#f03c10" d="M1471.0 647.5L1483.0 647.5L1483.0 676.6L1478.5 671.3L1474.7 664.0L1471.1 652.0L1470.2 647.5Z"/>
<path fill="none" stroke="#3a343a" stroke-width="1.6" d="M1258.0 695.4L1267.2 701.5L1285.0 710.7L1295.5 714.5L1306.0 716.7L1315.0 717.1L1322.5 715.9L1330.0 712.5L1339.8 706.0L1346.6 700.0L1349.6 695.5L1350.7 691.0L1349.9 685.0L1346.5 677.5L1336.8 662.5L1330.0 654.2L1322.8 647.5M1258.0 815.6L1264.0 814.0L1271.5 810.9L1279.0 806.7L1285.6 802.0L1289.5 798.1L1291.9 794.5L1293.5 790.0L1293.9 785.5L1292.9 779.5L1290.3 772.0L1286.5 764.5L1282.0 758.4L1278.7 755.5L1274.5 753.1L1268.5 750.9L1258.0 748.0M1258.0 838.7L1265.5 835.5L1271.5 831.8L1277.5 827.0L1289.5 815.9L1303.0 807.1L1307.5 801.8L1309.0 798.5L1310.0 794.5L1310.0 790.0L1308.4 784.0L1294.0 752.0L1291.0 747.3L1288.0 744.0L1285.0 741.8L1276.0 737.3L1272.7 734.5L1271.5 732.5L1270.9 730.0L1272.2 727.0L1274.5 725.5L1279.0 725.1L1283.5 726.4L1292.5 730.8L1298.5 732.6L1313.5 734.3L1324.0 733.9L1329.9 731.5L1345.0 722.7L1352.5 719.1L1358.5 717.0L1373.5 713.4L1378.6 710.5L1382.8 706.0L1384.0 703.0L1384.3 698.5L1383.0 692.5L1380.5 686.5L1376.5 678.9L1370.5 669.4L1354.5 647.5M1258.0 867.4L1267.0 865.7L1276.0 863.0L1286.0 859.0L1295.2 854.5L1303.2 850.0L1309.5 845.5L1313.5 841.3L1316.5 836.4L1321.0 824.5L1324.6 812.5L1325.7 805.0L1326.0 794.5L1325.5 789.2L1324.6 785.5L1314.9 770.5L1311.8 763.0L1311.2 758.5L1311.5 755.5L1313.8 751.0L1318.0 748.0L1334.5 741.6L1354.0 731.1L1363.0 727.4L1370.5 726.0L1379.5 725.8L1402.0 729.2L1406.5 727.4L1409.5 723.8L1411.0 720.5L1411.9 716.5L1411.7 712.0L1410.7 709.0L1396.0 680.5L1376.5 647.5M1411.0 741.4L1408.0 743.7L1405.9 748.0L1404.9 754.0L1405.3 760.0L1408.0 769.0L1416.3 787.0L1421.5 809.2L1426.0 818.6L1430.5 824.4L1433.5 826.8L1436.5 828.3L1439.5 828.9L1442.5 828.5L1445.5 826.9L1447.0 825.4L1448.5 823.0L1449.7 818.5L1446.9 797.5L1445.5 766.0L1443.8 757.0L1441.9 752.5L1439.5 749.1L1436.5 746.2L1432.0 743.4L1427.5 741.7L1423.0 740.8L1412.5 740.9M1327.5 872.5L1333.0 866.2L1337.5 859.4L1340.5 853.0L1341.3 848.5L1338.3 826.0L1337.2 802.0L1335.7 787.0L1333.3 778.0L1327.1 764.5L1326.9 761.5L1328.5 759.0L1331.5 756.8L1351.0 747.3L1366.0 739.0L1370.5 737.5L1375.2 739.0L1379.8 743.5L1394.5 767.4L1400.1 778.0L1403.1 785.5L1404.8 791.5L1408.1 815.5L1412.5 834.3L1417.0 845.4L1422.7 853.0L1429.0 858.2L1436.5 861.9L1444.0 863.4L1450.0 863.0L1456.0 861.0L1462.0 856.8L1466.5 851.0L1469.4 844.0L1470.7 835.0L1469.8 824.5L1467.3 815.5L1459.9 797.5L1458.2 790.0L1458.0 784.0L1458.9 755.5L1458.4 748.0L1457.2 743.5L1455.7 740.5L1453.0 737.2L1435.8 725.5L1432.0 721.9L1429.0 718.0L1394.0 647.5M1483.0 809.7L1474.4 794.5L1472.0 787.0L1471.8 779.5L1473.9 749.5L1473.2 742.0L1471.3 736.0L1468.6 731.5L1465.7 728.5L1462.0 726.1L1445.5 718.1L1439.8 713.5L1436.0 709.0L1432.0 702.4L1427.3 692.5L1409.1 647.5M1348.3 872.5L1351.4 857.5L1352.2 845.5L1351.4 835.0L1346.5 797.5L1345.9 785.5L1346.3 778.0L1348.0 772.1L1351.0 768.2L1355.5 765.5L1361.5 764.5L1373.5 766.5L1381.0 769.8L1387.0 775.4L1391.5 782.9L1394.0 790.0L1395.5 797.5L1397.4 827.5L1399.7 850.0L1403.5 860.5L1409.9 872.5M1483.0 730.7L1478.8 725.5L1473.5 721.0L1468.0 717.8L1451.5 710.5L1447.0 707.3L1443.2 703.0L1439.5 696.6L1435.4 686.5L1423.2 647.5M1367.3 872.5L1364.4 865.0L1362.8 856.0L1362.9 850.0L1364.7 835.0L1364.5 827.5L1363.4 821.5L1358.4 803.5L1357.1 791.5L1358.0 785.5L1360.5 781.0L1364.5 778.1L1369.0 777.3L1372.0 777.7L1375.0 778.9L1379.3 782.5L1382.5 788.4L1384.0 794.5L1384.3 805.0L1382.3 827.5L1382.9 835.0L1385.5 850.0L1386.1 859.0L1385.6 866.5L1384.2 872.5"/>
</g>
<circle cx="1371" cy="760.5" r="110" fill="none" stroke="#000" stroke-width="2.8"/>
<path fill="#000" d="M1342.5 667.2l3.9 3.9l-3.9 3.9l-3.9-3.9zM1399.5 667.2l3.9 3.9l-3.9 3.9l-3.9-3.9zM1292.3 699.9l3.9 3.9l-3.9 3.9l-3.9-3.9zM1330.2 708.5l3.9 3.9l-3.9 3.9l-3.9-3.9zM1371 710.5l3.9 3.9l-3.9 3.9l-3.9-3.9zM1411.8 708.5l3.9 3.9l-3.9 3.9l-3.9-3.9zM1449.7 699.9l3.9 3.9l-3.9 3.9l-3.9-3.9zM1278 727l3.9 3.9l-3.9 3.9l-3.9-3.9zM1324.9 731.3l3.9 3.9l-3.9 3.9l-3.9-3.9zM1371 733.6l3.9 3.9l-3.9 3.9l-3.9-3.9zM1417.1 731.3l3.9 3.9l-3.9 3.9l-3.9-3.9zM1464 727l3.9 3.9l-3.9 3.9l-3.9-3.9zM1274.7 756.6l3.9 3.9l-3.9 3.9l-3.9-3.9zM1322.9 756.6l3.9 3.9l-3.9 3.9l-3.9-3.9zM1371 756.6l3.9 3.9l-3.9 3.9l-3.9-3.9zM1419.1 756.6l3.9 3.9l-3.9 3.9l-3.9-3.9zM1467.3 756.6l3.9 3.9l-3.9 3.9l-3.9-3.9zM1278 786.4l3.9 3.9l-3.9 3.9l-3.9-3.9zM1324.7 781.9l3.9 3.9l-3.9 3.9l-3.9-3.9zM1371 780.2l3.9 3.9l-3.9 3.9l-3.9-3.9zM1417.3 781.9l3.9 3.9l-3.9 3.9l-3.9-3.9zM1464 786.4l3.9 3.9l-3.9 3.9l-3.9-3.9zM1292.3 814.7l3.9 3.9l-3.9 3.9l-3.9-3.9zM1329.7 805.3l3.9 3.9l-3.9 3.9l-3.9-3.9zM1371 803l3.9 3.9l-3.9 3.9l-3.9-3.9zM1412.3 805.3l3.9 3.9l-3.9 3.9l-3.9-3.9zM1449.7 814.7l3.9 3.9l-3.9 3.9l-3.9-3.9zM1342.5 846.3l3.9 3.9l-3.9 3.9l-3.9-3.9zM1371 849.5l3.9 3.9l-3.9 3.9l-3.9-3.9zM1399.5 846.3l3.9 3.9l-3.9 3.9l-3.9-3.9z"/>
</svg></body></html>
